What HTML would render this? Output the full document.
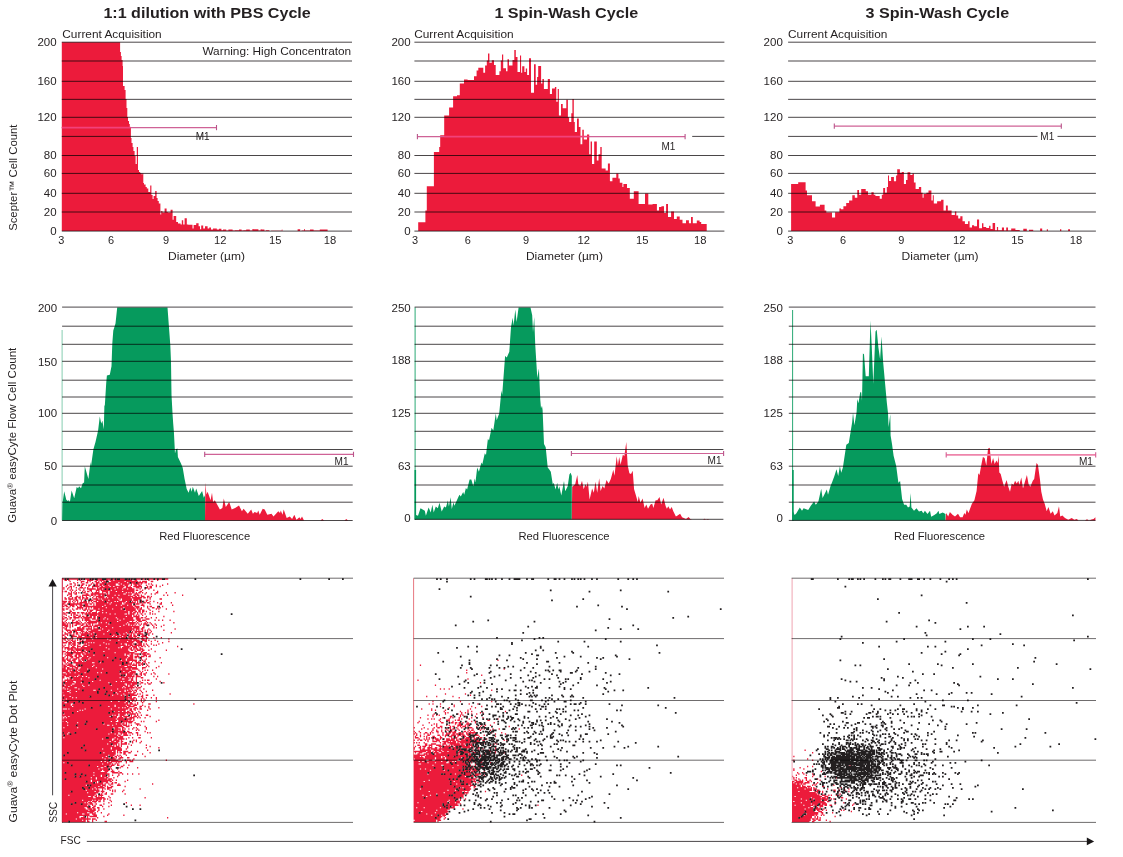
<!DOCTYPE html>
<html lang="en"><head><meta charset="utf-8"><title>Spin-Wash Cycle comparison</title>
<style>html,body{margin:0;padding:0;background:#fff;overflow:hidden}svg{display:block}text{font-family:"Liberation Sans",sans-serif;font-size:11px;fill:#231f20}</style></head><body>
<svg width="1123" height="857" viewBox="0 0 1123 857">
<rect width="1123" height="857" fill="#fff"/>
<!-- histograms -->
<path d="M61.8 231.1V42.2H120.1V52H120.9V56H121.6V60H122.6V66H123V86H124.6V90H125.6V99H126.5V108H127.3V117H128V121H129V124H129.8V128H130.9V138H131.5V143H132.6V147H133.4V151H134.6V156H135.6V164H136.8V147.1H138V170H139V172H140.2V173H141.6V174.5H142.4V173.2H143.3V183H144V184.5H145.6V187H146.8V188.5H148.3V192H150.2V185.6H151.4V195H152.6V199H153.6V196H155.2V191H156.6V198H157.6V201H158.8V203.5H160.4V214.5H161.2V211H162.4V212.5H164.6V208.5H166.6V212H167.8V212.5H170.6V209.8H172.6V219.7H173.6V216H176.2V221.9H178V223.6H180.6V224.4H181.8V220.2H183.2V224.4H184.6V218.3H186.8V224.6H188.2V224.7H192.5V228.5H193.6V224.9H196.2V223.3H198.6V226.2H200V229.3H201.2V225.6H203.2V228.4H205V226.2H207.6V228.6H209.2V227.4H211V229.4H213V228.4H216.8V229.6H219V228.8H221.4V230.2H223V229.6H226.2V230.6H228.4V229.4H230.2V229.6H232.6V230.6H235V230.2H239V229.6H241.6V230.6H243.4V230.2H246.2V229.6H249.8V230.6H252.4V229H253.4V229.2H258.4V230.6H260.6V229.2H261.6V229.6H264.4V230.8H266V230.2H269.4V231H271V230.8H281.8V229.6H282.4V231H283V231H297.6V229.2H300.2V231H301.6V230.6H304V229H304.8V230.4H305.6V230.6H310V229.4H311.2V229.6H313.6V230.4H315V230.4H319.8V229.6H322V229.4H324.4V229.6H327.6V231.1Z" fill="#ec1b3b"/>
<path d="M418.2 231.1V222.3H425.4V210.5H426.8V186.3H433.9V152.1H439.2V147.1H440.2V135.2H444.2V115.5H449.1V107.6H453.1V96.2H457V95.2H459.8V83.4H464V79.4H467.6V80.1H474V76.3H476.6V70.6H478.3V67.7H483.3V72.7H485.1V65.6H486.8V60.6H488V53.5H489.4V62.8H491.8V60.2H494V64.9H495.7V74.9H499.4V71.3H500.8V60.6H502V54.5H503.2V68.2H506V71.3H507.5V59.2H509V65.6H512.5V60H514.3V50H515.8V57H517.5V72H520V55.4H521.1V72.7H522.2V66.3H524.4V72H525.8V68.5H527.1V74.9H529V58.2H531V92.7H534V64.2H535.7V84.8H537.1V77H538.2V65.9H541.1V83.4H542.4V79.1H543.9V89.1H547.8V79.1H549.9V94.1H552V88.4H554.9V87H556.3V101.7H557.7V89.1H558.9V115.5H561V104H562.7V108.3H566.3V99.8H567.9V117.2H569.1V121.9H571.3V113.3H572.4V99.1H573.8V121.9H574.8V131.9H577V118.6H578.8V126.9H580.5V144.2H582.3V129.7H583.8V139.5H587V134.5H589.2V154.2H590.6V141.4H592V163.9H594.2V141.4H596.8V160.6H598.5V154.2H600.3V147.1H601.7V168.5H605.6V170.6H607.9V163.5H609.9V181.3H612.4V177.7H616.3V173.4H618.4V178.4H619.8V182.7H622.4V187H623.4V184.1H627V188.1H629.8V198.7H633.8V191.3H638.6V204.1H645V193.4H648.3V204.4H652.6V204.1H656.9V210.5H659V206.9H661.4V206.2H664V212.9H666.1V204.1H668V216.9H671.1V211.6H674V219H676.8V216.6H679.7V219.7H682.5V223.3H686V220.2H688.9V223.3H691V216.9H692.8V223.3H696.8V220.5H699.6V222H701.2V224H706.7V231.1Z" fill="#ec1b3b"/>
<path d="M791.1 231.1V184.1H798.2V182.3H805.6V190.5H807V195.2H812V201.2H815.6V206.6H819.9V204.8H824.6V210.5H826.3V212.6H832V217.6H835.1V212.3H839.4V208.4H841V209.2H843.4V206.2H846.2V203.1H849.1V200.5H852.3V195.2H854.8V197.7H857.3V190.1H859V194.8H861.2V189.1H865.7V191.3H868V194.8H871.4V192.3H873.7V194.8H875.4V196H879.7V198.8H881.8V194.8H883.2V188.1H885.1V192.7H886.8V187H888V175.6H889V181H891.1V177H893.9V181.3H896.1V175.6H897.2V169.2H899.9V172.7H901.8V172H903.9V184.1H906V179.9H907.5V172.3H910.3V174.9H912.5V173.4H913.9V182.4H915.6V189.1H918.9V187H921.2V192.7H922.6V197.7H923.6V194.1H926.4V192.7H928.5V190.5H931.4V200.5H932.8V195.2H933.8V203.4H937.1V201.2H941.1V199.8H943.5V210.5H945.9V205.5H947.8V210.5H951.6V215H954.9V211.5H956.3V215.5H958.2V218.6H960.3V216.2H962.5V221.2H964.9V224H968.1V221.2H969.6V227.6H972V225.2H974.1V226.2H977V219.5H979.1V228.3H982V223.3H983.4V226.9H986.2V228H989.1V225.7H990.5V229H992.6V222.9H995.1V230.2H996.9V226.9H998.1V230.2H1001.9V227.6H1004V230.4H1006.2V227.6H1008V230.4H1011.2V228.6H1015.4V230H1019.7V231H1023.3V228.7H1026.8V231H1029V229.7H1033.2V231H1040.1V228.6H1042.2V231H1046.8V229.3H1047.9V231H1060V229.3H1061.3V231H1068.1V229.3H1070V231.1Z" fill="#ec1b3b"/>
<path d="M62.1 520.6L62.1 520.6L62.5 503.3L64.2 491.2L66.3 499.7L68.2 501.2L68.7 499.7L69.9 501.9L71.6 490.5L74.2 498.3L76.7 486.9L78.1 488.3L79.1 486.2L81 488.3L82.7 483.3L84.1 482.6L84.8 466.3L88.4 479.1L90.5 462L91 466.3L93.4 449.2L95.5 442L98.1 430.6L99.8 416.4L101.2 423.5L102.4 420.7L103.8 429.2L104.4 405L104.8 406.1L106.2 383.3L106.9 375.5L109.8 374.8L111.5 366.2L112.3 343.4L113.3 330.6L115.5 323.5L117.2 307.4L167.5 307.4L168.9 326.3L170.3 344.9L171 362L171.5 394.7L172.5 413.2L173.2 423.5L173.9 432L175 453.4L176 449.2L177.4 448.4L177.9 457L181 463.4L182.7 467.7L184.6 479.1L186.7 489L188.6 492.7L190.3 487.6L191.7 491.8L192.8 486.7L195 492.7L196.2 488.4L198.8 496.1L202.1 491L203.8 497.7L205 495.2L205 520.6ZM415.1 519.4L415.1 519.4L416 515L418 515.8L420.5 508.2L424.8 510.7L425.9 515.8L428.6 507.4L430.7 512.4L432.4 504.8L433.7 512.4L435.8 506.5L437.8 508.2L439.5 502.8L441.7 511.6L444.2 506.5L445.9 507.4L447.9 500.6L448.9 506.5L450.6 497.2L451.8 509L453.5 502.3L454.4 505.7L459.4 494.7L460.8 496.4L463.2 492.1L464.2 494.7L465.9 487.9L467.1 489.6L469.6 479.4L471.3 479.4L473.3 486.2L474.7 478.6L475.5 482L477.2 467.6L478.9 471.8L481.4 462.5L482.3 464.2L484.8 453.2L486 454.9L487.9 438.8L489 440.5L491.6 427.8L493.3 430.4L495.8 413.5L496.7 420.2L499.2 413.4L501.4 390.6L502.2 394.8L505.1 355.9L506.8 357.6L509.3 351.7L511 327.1L512.7 317.8L513.6 325.5L515.3 309.4L516.6 322.1L518.6 307.4L530.5 307.4L532.2 315.3L533 332.2L534.2 317L535.2 344L537.3 377.9L538.9 368.6L540.3 399.9L541 408.3L542 405.8L542.6 410.1L544 443.9L545.7 447.3L547.7 467.6L549.1 469.3L550.8 471.8L552.8 484.5L553.8 482.8L555.5 489.6L557.2 482.8L558.4 489.6L559.3 486.2L561.3 495.5L564 481.1L565.2 491.3L567.7 486.2L569.4 474.4L570.6 472.7L571.8 476L571.8 519.4ZM792.5 520.5L792.5 520.5L793 511.6L794.7 515L796.4 513.3L799.8 507.4L802 510.7L803.6 508.2L808.2 509.9L810.8 505.7L814.1 501.4L815.8 504.8L818.4 501.4L821.2 488.7L822.6 498L825.1 493L826.8 489.6L828 494.7L830.7 485.4L831.9 482.8L834.4 476.1L836.5 469.3L838.2 476.1L839.9 465.9L841.2 472.7L842.9 467.6L846.3 444.8L848.8 443.1L852.2 421.9L853 412.6L854.4 425.3L856.1 415.2L856.6 412L857.3 399L858.5 403.3L860.2 392.3L861.2 392.3L862 400.7L862.9 353.4L864 354.2L865.7 376.2L868.8 376.2L870.5 320.4L871.7 345.8L873.3 383.8L875.5 331.4L876.7 329.7L878.4 347.4L880.1 359.3L881.5 336.4L883.2 362.7L885.2 384.7L886.9 403.3L888 413L888.6 427L890.3 414.3L890.6 435.5L892 443.9L893.6 455.8L896.2 465.9L898.4 482.8L900.1 481.1L902.1 498.9L904.1 504.8L906.3 504.8L908 507.4L909.7 506.5L910.6 493L911.4 507.4L914 510.7L916.5 508.2L919 511.6L921.6 510.7L923.3 513.3L924.9 510.7L927.5 514.1L930 510.7L931.2 516.7L934.3 515L936.8 513.3L938.5 510.7L939.3 514.1L942.7 512.4L945.5 514.1L945.5 520.5Z" fill="#069a5d"/>
<path d="M205 520.6L205 520.6L205.4 482.5L206.4 494.4L207.6 491.8L210.6 500.3L212 492.7L213.1 502L214.8 500.3L219.9 509.6L222.4 507.9L223.8 498.6L225.8 507L229.2 502L231.7 509.6L235.1 507.9L239 505.4L241.9 511.3L243.6 508.7L247.8 513.8L251.2 509.6L252.9 513.8L254.6 512.1L257.1 513L258.3 510.4L259.7 514.7L262.7 508.7L264.7 509.6L267.3 514.7L271.5 513.8L273.5 516.4L278.3 511.3L280 513L280.8 510.4L282.5 514.7L283.7 509.6L286.7 518L289.8 516.4L292.1 518.9L294.3 514.7L296.5 519.7L299.4 517.2L300.6 518.9L302 516.4L304 520.6L320.5 520.6L322.3 519L324 520.6L344.5 520.6L346.3 519L348 520.6L348 520.6ZM571.8 519.4L571.8 519.4L572.2 486.7L575.2 484.2L577.3 474.9L578.3 484.2L580.3 485.9L582 480.8L583.7 489.3L585.4 484.2L586.7 486.7L587.9 481.7L589.6 499.4L592.1 488.4L593.8 492.7L595.5 481.7L597.2 492.7L599.2 478.3L600.6 491L602.6 485.9L604.3 488.4L606.5 480L608.7 483.4L610.8 479.1L613.3 469.8L614.5 475.8L616.7 456.3L617.9 465.6L619.2 457.1L620.6 464.8L622.9 454.6L624.3 456.3L626.3 441.9L627.7 465.6L629.4 473.2L631 474L632.7 470.7L634.1 489.3L636.1 496L637.8 502L638.7 496L640.4 502.8L642.6 498.6L644.6 507.9L646.3 504.5L648 508.7L650.5 504.5L652.2 503.7L653.4 507.9L655.6 500.3L657.3 500.3L659.5 496.9L661.2 504.5L663.5 497.7L665.7 506.2L666.9 508.7L668.3 506.2L670 509.6L671.7 507L673.3 511.3L675.9 516.4L677.6 515.5L680.1 513.8L682.1 517.2L686 518.9L688.6 516.9L690.3 519.1L692 519.4L703 519.4L704.6 518.8L706 519.4L707.8 519L709.5 519.4L709.5 519.4ZM945.5 520.5L945.5 520.5L946.2 513L948.2 516.4L949.9 512.1L952.5 514.7L955 516.4L958 513.8L960.1 517.2L962.6 517.2L964.3 513L965.5 514.7L966.8 509.6L968.5 513L971.9 503.7L974.4 500.3L976.6 491L978.3 473.2L979.5 474.9L981.2 465.6L982.9 457.1L984.6 458L986.3 465.6L988 448.7L989.7 447.8L991.4 463.9L993.1 458L994.7 463.9L996.4 460.5L997.6 463.1L998.6 455.5L999.3 472.4L1000.7 474.1L1002.4 480.8L1004.1 486.7L1006.6 480L1008.3 486.7L1010 491.8L1011.7 483.4L1013.4 485.1L1015.1 480.8L1016.7 483.4L1018.4 480.8L1019.3 485.1L1021.3 477.4L1023 488.4L1024.7 482.5L1026.9 474.9L1028.6 484.2L1030.3 486.7L1032.8 480.8L1034.2 479.1L1036.5 463.1L1037.9 464.8L1039.9 479.1L1041.3 491.8L1043 499.4L1044.7 503.7L1046.7 511.3L1048.4 507L1050.6 513.8L1052.8 511.3L1054.5 515.5L1057.3 513L1059 506.2L1060.2 516.4L1062.4 515.5L1065 518L1068.3 519.7L1071.7 518L1074.3 519.7L1076.8 518.9L1078.5 520.5L1085 520.5L1087 519.2L1089 520.5L1091.5 519.6L1093.6 519L1095.4 517.2L1095.4 520.5Z" fill="#ec1b3b"/>
<path d="M62.1 330V520.3" stroke="#069a5d" stroke-width="0.7" stroke-opacity="0.7" fill="none"/>
<path d="M415.1 307.4V519.4M792.6 310V520.4" stroke="#069a5d" stroke-width="1" stroke-opacity="0.85" fill="none"/>
<path d="M415.3 470V519.4M792.9 470V520.4" stroke="#069a5d" stroke-width="1.6" fill="none"/>
<!-- dot plots -->
<g transform="translate(62 579.02) scale(1.25)"><path d="M0 0h2m1 0h1m1 0h8m1 0h1m1 0h1m1 0h4m1 0h1m1 0h1m2 0h4m3 0h4m1 0h2m1 0h1m2 0h4m2 0h1m1 0h1m1 0h1m2 0h4m1 0h2m1 0h1m1 0h4m1 0h2m1 0h3m2 0h3M2 1h2m1 0h1m6 0h1m1 0h1m5 0h5m2 0h2m1 0h4m1 0h2m1 0h3m1 0h14m2 0h2m9 0h1m6 0h1M6 2h1m8 0h3m2 0h1m1 0h1m3 0h2m1 0h1m1 0h1m1 0h2m4 0h11m1 0h10m1 0h1m1 0h4m3 0h2M9 3h1m2 0h1m2 0h1m3 0h2m3 0h1m2 0h3m2 0h4m1 0h8m1 0h6m1 0h1m1 0h4m1 0h5m1 0h2M6 4h2m2 0h1m5 0h2m5 0h1m1 0h1m1 0h2m1 0h4m1 0h8m2 0h2m1 0h6m1 0h1m1 0h5m1 0h1m5 0h1m1 0h1m12 0h1M4 5h1m5 0h1m1 0h1m2 0h2m2 0h1m1 0h2m3 0h3m1 0h2m1 0h4m1 0h5m3 0h3m1 0h3m2 0h1m2 0h2m1 0h2m4 0h1m4 0h1m2 0h1m4 0h1M3 6h1m2 0h2m1 0h1m5 0h1m5 0h1m2 0h6m1 0h2m1 0h4m1 0h2m1 0h8m1 0h2m1 0h1m2 0h7m4 0h1m1 0h2m3 0h1m2 0h1M1 7h1m3 0h1m1 0h1m3 0h1m2 0h3m1 0h1m1 0h1m3 0h1m3 0h1m1 0h14m1 0h4m2 0h5m3 0h3m1 0h1m3 0h2m1 0h2M1 8h1m2 0h1m2 0h1m5 0h1m3 0h1m2 0h7m1 0h4m1 0h1m1 0h2m1 0h4m1 0h5m1 0h3m1 0h5m4 0h1m3 0h1m2 0h1M6 9h1m1 0h1m2 0h1m2 0h1m2 0h1m4 0h2m3 0h3m1 0h8m1 0h18m1 0h2m3 0h1m8 0h1M0 10h1m1 0h2m3 0h1m2 0h1m5 0h1m1 0h1m1 0h2m1 0h1m3 0h1m1 0h1m2 0h5m1 0h5m1 0h4m1 0h9m4 0h2m12 0h1M5 11h1m1 0h1m1 0h1m1 0h1m1 0h1m3 0h2m5 0h1m1 0h4m2 0h1m2 0h2m1 0h13m1 0h1m1 0h1m1 0h2m1 0h1m1 0h2m1 0h1m2 0h1m7 0h2m6 0h1m6 0h1M5 12h3m2 0h2m7 0h2m2 0h12m1 0h1m1 0h11m2 0h5m2 0h3m5 0h1m4 0h1m2 0h1M4 13h1m2 0h1m8 0h6m1 0h2m1 0h1m2 0h2m1 0h2m1 0h7m1 0h2m1 0h7m1 0h1m2 0h2m1 0h2m1 0h1m17 0h1m2 0h1m11 0h1M6 14h2m3 0h2m1 0h1m1 0h1m2 0h1m2 0h1m2 0h1m1 0h7m2 0h21m1 0h2m1 0h1m1 0h3m2 0h2m1 0h1M2 15h1m2 0h1m2 0h1m1 0h2m1 0h2m1 0h2m1 0h2m3 0h1m2 0h1m1 0h5m1 0h1m1 0h3m1 0h3m1 0h10m1 0h8m1 0h2m1 0h1m1 0h1M2 16h2m1 0h4m1 0h2m2 0h1m1 0h1m1 0h3m4 0h4m1 0h1m1 0h13m1 0h1m1 0h8m1 0h6m7 0h1m7 0h2M6 17h1m2 0h1m1 0h2m2 0h1m6 0h3m2 0h5m1 0h4m1 0h8m2 0h8m1 0h4m2 0h1m3 0h2M0 18h4m1 0h2m1 0h1m1 0h1m1 0h1m2 0h1m1 0h3m1 0h1m1 0h1m1 0h3m1 0h5m1 0h7m1 0h1m1 0h6m1 0h2m2 0h1m1 0h1m1 0h1m2 0h1m1 0h1m1 0h1m2 0h1m2 0h1M1 19h2m2 0h2m2 0h1m2 0h1m1 0h6m1 0h1m2 0h1m2 0h9m1 0h2m1 0h8m1 0h1m1 0h8m1 0h1m1 0h2m1 0h2m1 0h2m6 0h1m2 0h1m7 0h1M0 20h2m2 0h1m1 0h10m2 0h3m1 0h2m1 0h1m1 0h11m1 0h9m2 0h6m3 0h3m2 0h1m5 0h1m7 0h2M0 21h1m1 0h2m2 0h4m1 0h1m2 0h3m1 0h3m4 0h1m1 0h7m1 0h8m1 0h3m1 0h4m1 0h3m1 0h2m4 0h3m22 0h1M0 22h2m1 0h2m1 0h1m1 0h2m2 0h1m1 0h2m1 0h15m1 0h24m1 0h4m3 0h1m2 0h1m1 0h2m4 0h1m3 0h1M5 23h1m6 0h5m2 0h1m1 0h1m1 0h1m1 0h10m1 0h13m1 0h8m1 0h3m1 0h1m4 0h1m3 0h2m2 0h1m1 0h1M0 24h2m1 0h2m3 0h1m2 0h2m1 0h1m1 0h1m1 0h2m1 0h1m3 0h4m1 0h10m1 0h6m1 0h1m1 0h9m1 0h1m1 0h2m5 0h1m5 0h1m1 0h1m5 0h1M1 25h1m4 0h1m2 0h1m7 0h2m1 0h1m1 0h3m2 0h5m1 0h17m1 0h8m2 0h2m1 0h2m4 0h1M6 26h2m12 0h1m1 0h2m3 0h1m2 0h23m1 0h3m1 0h2m1 0h2m1 0h2m1 0h1m4 0h1m4 0h1m11 0h1M1 27h1m1 0h2m1 0h1m1 0h3m1 0h2m1 0h3m1 0h1m1 0h2m1 0h4m1 0h3m1 0h2m1 0h17m1 0h2m1 0h2m1 0h1m1 0h1m1 0h1m5 0h1M1 28h2m4 0h1m1 0h2m5 0h1m1 0h20m1 0h3m1 0h7m2 0h1m1 0h4m2 0h1m2 0h1m2 0h1m3 0h1m1 0h1m1 0h1M3 29h1m3 0h1m1 0h1m1 0h2m1 0h1m4 0h1m2 0h6m1 0h27m1 0h1m1 0h1m1 0h1m2 0h1M1 30h1m3 0h1m3 0h2m2 0h2m1 0h2m1 0h2m1 0h2m1 0h2m1 0h23m1 0h4m1 0h5m5 0h1m13 0h1M0 31h1m1 0h2m2 0h2m1 0h5m1 0h1m1 0h7m1 0h2m1 0h1m1 0h4m1 0h8m1 0h13m2 0h3m1 0h2m1 0h1m4 0h1m3 0h1M0 32h2m2 0h1m1 0h1m3 0h1m5 0h1m1 0h4m2 0h3m1 0h5m1 0h2m1 0h7m1 0h4m1 0h7m2 0h4m4 0h3M3 33h1m4 0h2m3 0h1m2 0h1m1 0h5m4 0h2m1 0h16m1 0h11m2 0h3m1 0h3m7 0h1m2 0h1m2 0h1m5 0h1M0 34h1m1 0h1m5 0h1m2 0h2m1 0h1m4 0h1m1 0h23m1 0h9m2 0h1m2 0h1m1 0h3m3 0h1M0 35h2m1 0h1m1 0h1m2 0h6m1 0h1m2 0h1m1 0h8m1 0h2m1 0h3m1 0h2m1 0h13m1 0h6m1 0h1m5 0h1m1 0h1m1 0h1m18 0h1M0 36h3m1 0h1m1 0h1m1 0h1m2 0h4m1 0h2m1 0h1m1 0h2m1 0h1m4 0h8m1 0h13m1 0h1m1 0h4m1 0h1m1 0h1m1 0h1m1 0h3m3 0h1m2 0h1M0 37h5m1 0h1m1 0h1m1 0h2m3 0h2m2 0h2m1 0h1m1 0h1m1 0h23m1 0h3m1 0h1m1 0h1m1 0h1m3 0h1m2 0h1m1 0h1m1 0h1m2 0h1m2 0h1m5 0h1M2 38h3m1 0h1m1 0h1m5 0h1m2 0h7m1 0h4m1 0h5m1 0h10m1 0h15m3 0h1m7 0h1m5 0h1M1 39h1m1 0h1m2 0h1m5 0h3m1 0h2m3 0h1m1 0h1m1 0h1m2 0h1m2 0h9m1 0h15m1 0h5m2 0h2m7 0h1m1 0h1M2 40h2m6 0h1m1 0h6m1 0h5m1 0h7m1 0h25m1 0h3m1 0h2m4 0h1m20 0h1M3 41h4m1 0h9m3 0h1m2 0h6m2 0h6m1 0h18m1 0h1m1 0h1m1 0h1m2 0h1m1 0h1m1 0h1m1 0h1m10 0h1M0 42h1m3 0h1m1 0h2m2 0h2m3 0h3m1 0h1m1 0h15m1 0h17m2 0h1m1 0h7m1 0h1m1 0h1m2 0h1M2 43h1m2 0h3m1 0h1m1 0h2m1 0h1m1 0h1m1 0h3m1 0h3m1 0h17m1 0h7m1 0h5m1 0h2m1 0h2m4 0h2m1 0h1m16 0h1M2 44h3m1 0h1m2 0h1m1 0h2m2 0h8m1 0h2m1 0h6m1 0h4m1 0h5m2 0h3m1 0h2m1 0h1m1 0h1m1 0h1m2 0h5m4 0h1m2 0h1M0 45h2m2 0h1m2 0h3m3 0h1m1 0h5m2 0h5m1 0h13m1 0h4m1 0h5m2 0h2m1 0h2m1 0h1m3 0h2m1 0h1m1 0h1M2 46h1m5 0h4m1 0h3m2 0h7m1 0h14m1 0h2m1 0h4m1 0h3m1 0h3m1 0h3m3 0h5M0 47h1m1 0h2m3 0h2m3 0h11m1 0h3m1 0h18m1 0h4m2 0h4m1 0h1m1 0h2m2 0h1m2 0h2m4 0h1m5 0h1M1 48h2m1 0h1m1 0h1m1 0h1m3 0h1m2 0h1m1 0h1m1 0h5m1 0h11m1 0h16m1 0h6m3 0h3m1 0h1m17 0h1M0 49h1m1 0h1m2 0h1m1 0h2m1 0h1m1 0h1m1 0h1m1 0h1m2 0h19m1 0h6m1 0h10m1 0h5m2 0h4m1 0h1m4 0h1M0 50h1m2 0h2m1 0h1m1 0h3m3 0h2m1 0h35m1 0h5m1 0h4m3 0h2m3 0h1m4 0h1m8 0h1M0 51h4m1 0h3m1 0h2m1 0h2m3 0h4m1 0h1m1 0h1m1 0h7m1 0h9m1 0h13m3 0h4m16 0h1M5 52h2m1 0h3m2 0h2m3 0h1m1 0h15m1 0h1m1 0h9m1 0h2m2 0h4m1 0h1m1 0h1m1 0h3m1 0h1m1 0h1m3 0h1m5 0h1M0 53h1m1 0h1m2 0h1m1 0h1m1 0h2m1 0h1m4 0h4m1 0h8m1 0h20m1 0h1m1 0h3m1 0h6m1 0h1m2 0h1m4 0h1m1 0h1M1 54h1m3 0h1m2 0h2m2 0h3m1 0h2m2 0h27m2 0h6m1 0h4m1 0h1m1 0h2m1 0h1m2 0h1m22 0h1M0 55h1m1 0h4m1 0h4m1 0h1m2 0h20m1 0h9m1 0h1m1 0h6m1 0h1m1 0h3m2 0h1M2 56h1m1 0h5m1 0h13m1 0h13m1 0h15m1 0h2m1 0h1m1 0h2m1 0h3m6 0h1M5 57h1m1 0h3m1 0h5m1 0h1m1 0h34m2 0h2m1 0h1m1 0h3m1 0h2m3 0h1m13 0h1M0 58h3m1 0h1m2 0h1m1 0h2m1 0h1m2 0h4m1 0h1m1 0h11m1 0h20m4 0h2m3 0h2m9 0h1M0 59h1m2 0h4m1 0h9m1 0h3m1 0h3m1 0h16m1 0h15m5 0h1m1 0h3M0 60h1m1 0h1m1 0h5m2 0h4m1 0h2m1 0h31m1 0h3m1 0h2m1 0h4m2 0h3m1 0h2M3 61h5m2 0h2m1 0h2m2 0h8m1 0h7m1 0h16m1 0h1m2 0h3m3 0h1m4 0h3m2 0h1M2 62h1m1 0h1m1 0h3m1 0h2m1 0h3m1 0h3m1 0h32m1 0h3m1 0h4m1 0h3m1 0h1m1 0h2M0 63h2m2 0h1m2 0h2m2 0h3m2 0h6m1 0h13m1 0h5m1 0h9m1 0h4m1 0h2m1 0h1m1 0h1m14 0h1M0 64h2m1 0h2m1 0h1m2 0h3m1 0h1m1 0h6m1 0h24m1 0h4m1 0h5m6 0h1m3 0h1M0 65h3m1 0h3m1 0h3m2 0h2m1 0h2m2 0h20m1 0h6m1 0h3m1 0h8m4 0h1m1 0h1M1 66h2m2 0h3m1 0h2m2 0h3m1 0h1m1 0h10m1 0h2m1 0h21m2 0h1m1 0h2m1 0h1m3 0h2m7 0h1M2 67h1m1 0h1m4 0h15m2 0h4m1 0h17m1 0h2m1 0h2m1 0h1m3 0h4m1 0h1m1 0h1m2 0h1m9 0h1M0 68h1m2 0h1m1 0h3m3 0h37m1 0h7m1 0h1m1 0h1m1 0h1m1 0h2m2 0h1M1 69h2m1 0h5m2 0h2m1 0h1m1 0h9m1 0h20m1 0h6m1 0h1m1 0h4m1 0h2m1 0h1m3 0h1M1 70h3m2 0h5m1 0h12m1 0h25m2 0h4m3 0h1m7 0h1m1 0h1m7 0h1M1 71h2m1 0h2m2 0h1m1 0h3m2 0h12m1 0h32m4 0h3m8 0h1M0 72h3m1 0h6m1 0h2m1 0h6m1 0h11m1 0h14m1 0h3m2 0h2m1 0h5m3 0h1M0 73h5m1 0h1m1 0h1m1 0h2m1 0h8m1 0h34m5 0h1m4 0h1m1 0h1m3 0h1M0 74h5m1 0h7m1 0h6m1 0h25m1 0h2m1 0h4m1 0h4m3 0h1m1 0h1M3 75h3m1 0h3m1 0h7m1 0h9m1 0h2m1 0h3m1 0h17m1 0h5m4 0h1m3 0h1m5 0h1M0 76h3m1 0h11m1 0h30m1 0h4m1 0h5m1 0h1m3 0h2m1 0h2m4 0h1m2 0h1m10 0h1M1 77h12m1 0h33m1 0h1m1 0h1m1 0h4m1 0h1m1 0h2m2 0h1m2 0h1M0 78h2m1 0h3m1 0h3m1 0h1m1 0h3m1 0h2m1 0h8m1 0h21m1 0h7m1 0h4m10 0h1m2 0h1M0 79h2m4 0h1m1 0h13m1 0h24m1 0h6m1 0h1m1 0h1m2 0h1m3 0h2M4 80h1m1 0h2m1 0h6m1 0h10m1 0h21m2 0h4m1 0h2m2 0h1m15 0h1M2 81h28m1 0h22m2 0h2m2 0h1m4 0h1m1 0h1m1 0h2M1 82h2m1 0h5m2 0h5m1 0h7m1 0h18m1 0h3m1 0h1m1 0h6m1 0h1m1 0h1m2 0h1m15 0h1M0 83h1m1 0h8m1 0h4m1 0h5m1 0h15m1 0h22m3 0h2m3 0h1m2 0h1m9 0h1M0 84h1m1 0h6m2 0h28m1 0h11m2 0h3m1 0h4m2 0h1m3 0h1m2 0h2M1 85h1m1 0h4m1 0h8m1 0h4m1 0h17m1 0h11m1 0h1m1 0h4M0 86h5m1 0h11m1 0h31m1 0h3m1 0h3m1 0h1m1 0h1m2 0h1M2 87h8m2 0h21m1 0h14m1 0h1m1 0h7m1 0h1m1 0h2M1 88h1m1 0h1m1 0h8m1 0h15m1 0h14m1 0h9m1 0h1m4 0h1m4 0h1M0 89h6m1 0h9m1 0h8m2 0h12m1 0h10m1 0h1m1 0h2m1 0h1m1 0h2m2 0h1m9 0h1M0 90h4m2 0h5m1 0h16m1 0h6m1 0h10m1 0h3m1 0h5m1 0h1m1 0h1m3 0h1m3 0h1M1 91h5m1 0h21m1 0h12m1 0h1m1 0h9m1 0h1m2 0h2m5 0h1M0 92h34m1 0h9m1 0h4m1 0h8m2 0h1m1 0h1m23 0h1M0 93h1m1 0h35m1 0h2m1 0h6m1 0h2m1 0h2m1 0h6m4 0h1m2 0h2m4 0h1M0 94h6m1 0h15m1 0h27m1 0h2m1 0h2m5 0h1m1 0h2M1 95h7m1 0h2m1 0h44m1 0h2m5 0h1m2 0h1m3 0h1m3 0h1M0 96h3m1 0h46m1 0h2m1 0h4m1 0h1m3 0h1m1 0h1m9 0h1M0 97h1m1 0h52m1 0h3m1 0h1m3 0h1m2 0h1M1 98h3m1 0h8m1 0h25m1 0h5m1 0h5m1 0h1m3 0h1m1 0h1m4 0h1m1 0h1m9 0h1M0 99h2m2 0h5m1 0h6m1 0h33m1 0h2m1 0h2m4 0h1m3 0h1M0 100h7m2 0h44m1 0h3m1 0h1m1 0h1m8 0h2m34 0h1M0 101h1m1 0h5m1 0h22m1 0h11m1 0h8m1 0h3m2 0h3m4 0h1M0 102h8m1 0h28m1 0h4m1 0h9m1 0h5m4 0h2m2 0h1m2 0h1M0 103h23m1 0h21m1 0h2m1 0h1m1 0h3m4 0h2m2 0h1m6 0h1m7 0h1M4 104h1m1 0h12m1 0h20m1 0h13m1 0h2m1 0h2m1 0h1m1 0h2m6 0h1M0 105h14m1 0h1m1 0h34m3 0h2m2 0h1m9 0h1M0 106h12m1 0h27m2 0h3m1 0h2m1 0h2m1 0h2m1 0h2m4 0h1M1 107h7m1 0h28m1 0h17m1 0h1m2 0h1m2 0h1M0 108h1m1 0h43m1 0h5m1 0h1m1 0h5m1 0h1M0 109h40m1 0h1m1 0h2m1 0h4m5 0h1m2 0h1m1 0h1m2 0h1m3 0h2M1 110h1m1 0h2m1 0h32m2 0h4m2 0h2m1 0h5m1 0h1m1 0h3m1 0h1m8 0h1M2 111h1m1 0h40m1 0h4m1 0h2m2 0h4m2 0h1m1 0h1m3 0h1M1 112h42m1 0h6m1 0h5m1 0h1M0 113h44m1 0h8m1 0h1m2 0h1m19 0h1M1 114h2m1 0h15m1 0h19m1 0h3m2 0h2m1 0h9m6 0h1m1 0h1m9 0h1M0 115h4m1 0h7m1 0h19m1 0h15m1 0h1m1 0h1m1 0h3m2 0h1M0 116h18m1 0h14m1 0h9m1 0h3m1 0h2m1 0h1m7 0h3M0 117h4m1 0h6m1 0h24m2 0h2m1 0h7m1 0h3m1 0h1m1 0h1m4 0h1m1 0h1M0 118h49m2 0h3m12 0h1M0 119h1m1 0h10m1 0h28m1 0h3m3 0h2m7 0h1m1 0h1m7 0h1M0 120h27m1 0h12m2 0h5m1 0h1m1 0h1m2 0h1m2 0h1m3 0h1m6 0h1M0 121h45m1 0h1m1 0h2m9 0h1m1 0h1M0 122h40m1 0h8m1 0h1m1 0h2m12 0h1M1 123h4m1 0h4m1 0h28m1 0h5m1 0h6m1 0h3m3 0h2m7 0h1m1 0h1M0 124h4m1 0h1m1 0h30m1 0h4m1 0h2m2 0h1m1 0h3m4 0h1m3 0h1M2 125h42m1 0h2m2 0h4m1 0h1m5 0h1m1 0h1M0 126h45m1 0h3M0 127h1m1 0h33m2 0h5m1 0h6m4 0h1m2 0h1m4 0h2m8 0h1M0 128h32m1 0h7m2 0h2m1 0h5m1 0h1M0 129h40m1 0h5m1 0h1m9 0h1m1 0h1M0 130h38m1 0h3m1 0h3m1 0h2m7 0h1m2 0h1m3 0h1M0 131h45m2 0h1m2 0h2m4 0h1m5 0h1M0 132h36m1 0h2m1 0h4m1 0h1m1 0h5m1 0h1M0 133h17m1 0h22m1 0h1m1 0h1m1 0h1m1 0h1m7 0h1m11 0h1M0 134h42m1 0h3m1 0h1m4 0h1m17 0h1M0 135h15m1 0h23m1 0h7m5 0h1m14 0h1m9 0h1M0 136h32m1 0h6m1 0h8m3 0h1M0 137h18m1 0h24m1 0h4m20 0h1M0 138h40m1 0h2m1 0h1m1 0h1m2 0h4m2 0h1m4 0h1M0 139h4m1 0h25m1 0h2m1 0h9m1 0h1m1 0h2m1 0h2m2 0h2m15 0h1M0 140h43m6 0h2m13 0h1M0 141h1m1 0h35m1 0h4m2 0h1m1 0h1m4 0h1m6 0h2M0 142h35m1 0h1m1 0h3m1 0h2m1 0h1m1 0h1m18 0h1M0 143h32m1 0h4m3 0h2m1 0h1m2 0h3m3 0h2M0 144h34m1 0h8m2 0h2m10 0h1M0 145h37m1 0h7m3 0h1m3 0h3m1 0h1m26 0h1M0 146h31m1 0h2m1 0h3m1 0h9m3 0h1m2 0h3M0 147h1m1 0h2m1 0h31m1 0h3m3 0h1m1 0h1m5 0h1M0 148h32m1 0h6m1 0h1m1 0h1m1 0h1M0 149h7m1 0h13m1 0h16m1 0h3m2 0h2m3 0h1m3 0h1M0 150h28m1 0h5m1 0h1m1 0h3m7 0h2M0 151h31m2 0h4m1 0h1m7 0h1m5 0h1m7 0h1M0 152h29m1 0h7m2 0h1m4 0h1M0 153h32m1 0h5m2 0h1M0 154h31m3 0h3m2 0h3m3 0h1M0 155h2m1 0h22m1 0h10m4 0h5m1 0h2M0 156h10m1 0h4m1 0h22m7 0h1m2 0h1m3 0h1m3 0h1m4 0h1M0 157h18m1 0h6m1 0h5m1 0h3m2 0h1m2 0h1m4 0h1M0 158h10m1 0h3m1 0h16m1 0h4m1 0h1m6 0h1M0 159h23m1 0h3m1 0h6m1 0h2m4 0h1M0 160h2m1 0h24m1 0h8m1 0h3M0 161h23m1 0h15m1 0h1m2 0h1m8 0h1M0 162h19m1 0h3m1 0h4m1 0h1m1 0h6m1 0h2m10 0h1M0 163h25m2 0h1m1 0h4m2 0h2m3 0h1m1 0h2M0 164h33m1 0h1m2 0h1m1 0h2m4 0h1m26 0h1M0 165h19m2 0h1m1 0h8m1 0h3m3 0h1m5 0h3M0 166h29m1 0h3m1 0h1m1 0h1m2 0h2m9 0h1M0 167h16m1 0h4m1 0h4m1 0h7m2 0h4M0 168h17m1 0h6m1 0h2m1 0h1m3 0h1m1 0h1m1 0h2m24 0h1M0 169h19m1 0h10m2 0h1m5 0h1m1 0h1m1 0h1m6 0h1M0 170h7m1 0h18m1 0h3m1 0h3m6 0h1m1 0h1m5 0h1M0 171h20m1 0h8m3 0h1m2 0h1M0 172h27m4 0h1m2 0h2m3 0h2m9 0h1M0 173h5m1 0h20m1 0h1m1 0h4M0 174h21m2 0h2m1 0h2m1 0h1m1 0h1m5 0h1M0 175h25m2 0h7m4 0h1m27 0h1M0 176h32m1 0h2m1 0h1M0 177h16m1 0h7m1 0h1m1 0h2m1 0h1m2 0h1m4 0h1M0 178h21m1 0h1m1 0h4m1 0h2m2 0h1m5 0h1M0 179h10m1 0h7m1 0h1m1 0h3m2 0h1m10 0h1m13 0h1M0 180h7m1 0h7m1 0h5m1 0h3m2 0h1m5 0h1M0 181h20m1 0h1m2 0h1m1 0h1m3 0h2m7 0h1m15 0h1m6 0h1M0 182h21m1 0h1m2 0h2m5 0h1m4 0h1M0 183h18m2 0h3m1 0h2m2 0h2M0 184h19m2 0h3m1 0h2m2 0h1m3 0h1M0 185h21m1 0h5m2 0h1M0 186h26m2 0h1M0 187h12m1 0h7m2 0h3m1 0h1m4 0h1M0 188h3m1 0h12m2 0h4m2 0h3m10 0h1M0 189h22m3 0h3m8 0h1m12 0h1M0 190h14m3 0h1m2 0h1m1 0h6m5 0h1M0 191h14m1 0h4m1 0h1m7 0h1m55 0h1M0 192h11m1 0h11m1 0h3M0 193h16m1 0h2m1 0h1m3 0h1m2 0h1M0 194h5m1 0h13m1 0h2m2 0h1m9 0h2" stroke="#ec1b3b" stroke-width="1.14" fill="none"/></g>
<g transform="translate(62 579.02) scale(1.25)"><path d="M2 0h1.4M4 0h1.4M13 0h1.4M15 0h1.4M17 0h1.4M22 0h1.4M24 0h1.4M26 0h1.4M27 0h1.4M32 0h1.4M33 0h1.4M34 0h1.4M39 0h1.4M42 0h1.4M44 0h1.4M45 0h1.4M50 0h1.4M51 0h1.4M53 0h1.4M55 0h1.4M57 0h1.4M58 0h1.4M63 0h1.4M66 0h1.4M68 0h1.4M73 0h1.4M76 0h1.4M80 0h1.4M81 0h1.4M106 0h1.4M190 0h1.4M213 0h1.4M224 0h1.4M35 2h1.4M36 2h1.4M54 3h1.4M59 3h1.4M34 4h1.4M13 5h1.4M25 5h1.4M66 7h1.4M34 8h1.4M37 8h1.4M15 11h1.4M34 13h1.4M22 16h1.4M18 17h1.4M21 17h1.4M62 17h1.4M34 18h1.4M54 18h1.4M62 18h1.4M64 18h1.4M5 20h1.4M57 20h1.4M17 21h1.4M77 22h1.4M49 24h1.4M5 27h1.4M135 28h1.4M20 29h1.4M29 31h1.4M29 33h1.4M7 35h1.4M38 35h1.4M68 37h1.4M29 39h1.4M9 42h1.4M54 42h1.4M43 43h1.4M66 43h1.4M26 44h1.4M38 44h1.4M44 44h1.4M67 44h1.4M6 45h1.4M20 45h1.4M52 45h1.4M61 45h1.4M66 45h1.4M7 46h1.4M25 46h1.4M75 46h1.4M51 47h1.4M14 48h1.4M16 50h1.4M63 50h1.4M14 51h1.4M16 51h1.4M43 51h1.4M58 52h1.4M23 56h1.4M95 56h1.4M16 57h1.4M21 58h1.4M7 59h1.4M25 59h1.4M62 60h1.4M127 60h1.4M33 61h1.4M42 63h1.4M62 63h1.4M46 64h1.4M18 65h1.4M40 65h1.4M62 65h1.4M29 66h1.4M32 66h1.4M7 67h1.4M48 67h1.4M51 67h1.4M48 68h1.4M65 68h1.4M13 69h1.4M15 69h1.4M9 73h1.4M21 73h1.4M20 74h1.4M46 74h1.4M35 75h1.4M15 76h1.4M59 76h1.4M47 77h1.4M49 77h1.4M28 78h1.4M7 79h1.4M26 80h1.4M16 82h1.4M1 83h1.4M21 83h1.4M60 83h1.4M79 83h1.4M38 84h1.4M0 85h1.4M60 85h1.4M33 87h1.4M29 88h1.4M16 89h1.4M28 90h1.4M35 90h1.4M28 91h1.4M41 91h1.4M34 92h1.4M37 93h1.4M53 93h1.4M22 94h1.4M50 94h1.4M0 95h1.4M50 96h1.4M4 98h1.4M13 98h1.4M53 98h1.4M9 99h1.4M16 99h1.4M1 101h1.4M30 101h1.4M23 103h1.4M40 106h1.4M0 107h1.4M8 107h1.4M37 107h1.4M53 109h1.4M39 110h1.4M50 112h1.4M19 114h1.4M47 114h1.4M32 115h1.4M18 116h1.4M11 117h1.4M27 120h1.4M40 120h1.4M40 122h1.4M49 122h1.4M0 123h1.4M10 123h1.4M6 124h1.4M1 125h1.4M35 127h1.4M36 127h1.4M54 130h1.4M39 132h1.4M17 133h1.4M15 135h1.4M18 137h1.4M77 137h1.4M4 139h1.4M30 139h1.4M1 141h1.4M37 142h1.4M39 143h1.4M37 145h1.4M50 145h1.4M4 147h1.4M7 149h1.4M21 149h1.4M36 150h1.4M43 151h1.4M44 151h1.4M37 152h1.4M2 155h1.4M10 156h1.4M15 156h1.4M18 157h1.4M35 157h1.4M105 157h1.4M10 158h1.4M14 158h1.4M2 160h1.4M19 162h1.4M30 162h1.4M25 163h1.4M20 165h1.4M22 165h1.4M16 167h1.4M21 167h1.4M17 168h1.4M7 170h1.4M29 172h1.4M10 179h1.4M7 180h1.4M15 180h1.4M49 180h1.4M21 182h1.4M51 182h1.4M56 184h1.4M62 184h1.4M18 190h1.4M58 193h1.4M5 194h1.4" stroke="#231f20" stroke-width="1.4" fill="none"/></g>
<g transform="translate(413.6 579.02) scale(1.25)"><path d="M67 65h1M5 69h1M72 72h1M42 73h1M42 75h1M54 77h1M43 80h1M3 81h1M53 83h1M17 85h1M21 88h1m2 0h1m3 0h1M62 89h1M25 92h1m15 0h1M45 93h1M10 94h1m7 0h1m12 0h1M36 95h1M15 98h1m21 0h1m24 0h1M12 100h1m2 0h1m5 0h1m22 0h1m6 0h1M32 101h1M21 102h1m10 0h1m13 0h1m7 0h1M28 103h1m20 0h1M6 104h1m7 0h1m30 0h1M14 105h1m2 0h1m7 0h1m17 0h1M24 106h1m12 0h1m5 0h1m2 0h1m26 0h1M25 107h1m1 0h1m10 0h1m2 0h1m1 0h1m9 0h1m1 0h1M16 108h1m8 0h1m9 0h1m2 0h1m7 0h1m3 0h1M11 109h1m3 0h1m2 0h1m1 0h1m16 0h1m1 0h1M15 110h1m13 0h2m6 0h1m3 0h1m7 0h1M5 111h1m17 0h1m5 0h1m1 0h1m4 0h1m9 0h1m8 0h1M11 112h1m2 0h1m1 0h1m4 0h1m6 0h1m7 0h1m1 0h1m5 0h1m22 0h1M20 113h1m5 0h3m4 0h1m1 0h2m22 0h2M4 114h1m16 0h1m6 0h1m2 0h1m10 0h1m3 0h1m2 0h1M3 115h1m8 0h1m9 0h2m6 0h2m1 0h2m1 0h2m1 0h1m3 0h1m5 0h1m14 0h1M16 116h1m1 0h1m14 0h1m2 0h2m4 0h3M7 117h1m6 0h1m3 0h1m7 0h1m1 0h1m6 0h4m2 0h1m1 0h1m10 0h1m2 0h1m3 0h1M18 118h1m2 0h2m6 0h1m1 0h2m2 0h1m1 0h1m1 0h3m1 0h1m6 0h1m2 0h1m2 0h1m19 0h1M0 119h1m7 0h1m7 0h1m2 0h2m1 0h1m5 0h2m4 0h1m3 0h1m5 0h3M6 120h1m4 0h1m3 0h1m10 0h1m2 0h1m1 0h2m2 0h1m7 0h1m3 0h1m4 0h1m1 0h1m1 0h1m6 0h1m4 0h1m15 0h1M15 121h1m2 0h1m3 0h1m2 0h1m1 0h1m2 0h1m5 0h1m7 0h1m1 0h2m5 0h1m7 0h1M0 122h1m3 0h1m9 0h1m3 0h2m2 0h1m6 0h2m1 0h2m6 0h2m1 0h1m1 0h1m2 0h1M1 123h1m3 0h1m3 0h2m2 0h1m1 0h1m3 0h1m3 0h1m2 0h1m1 0h2m1 0h3m2 0h2m1 0h1m2 0h1m1 0h6m12 0h1m7 0h1M0 124h1m1 0h1m5 0h1m2 0h1m1 0h1m9 0h1m2 0h3m2 0h2m1 0h2m1 0h3m2 0h2m1 0h1m1 0h1m2 0h1m14 0h1m7 0h1M2 125h1m2 0h1m5 0h2m6 0h2m2 0h1m1 0h2m3 0h4m1 0h3m1 0h2m2 0h2m4 0h3m4 0h1M1 126h1m3 0h1m2 0h1m1 0h1m4 0h2m4 0h1m3 0h1m2 0h3m2 0h1m1 0h1m2 0h1m1 0h2m6 0h1m3 0h1m12 0h1M1 127h3m6 0h1m1 0h1m1 0h1m1 0h2m3 0h2m7 0h1m2 0h2m5 0h1m1 0h3m1 0h1m1 0h1m1 0h1m2 0h2M4 128h1m3 0h1m1 0h1m1 0h1m2 0h1m1 0h3m1 0h1m2 0h1m1 0h3m1 0h3m1 0h1m1 0h1m1 0h2m1 0h4m3 0h2m1 0h1m6 0h1M0 129h1m2 0h1m1 0h2m2 0h1m1 0h1m3 0h1m2 0h3m5 0h7m1 0h2m2 0h4m1 0h3m2 0h1m1 0h2m3 0h2m15 0h1m1 0h1M11 130h1m3 0h4m1 0h1m2 0h5m1 0h1m1 0h3m1 0h10m5 0h3M0 131h1m1 0h1m1 0h1m3 0h1m12 0h1m2 0h2m1 0h7m1 0h1m1 0h9m1 0h3m6 0h1M9 132h2m3 0h4m5 0h3m3 0h8m1 0h2m1 0h1m1 0h1m2 0h1m7 0h1m9 0h1m1 0h1M3 133h2m4 0h2m1 0h3m3 0h4m1 0h1m2 0h1m1 0h1m1 0h1m1 0h9m2 0h4m3 0h1m10 0h1M1 134h1m3 0h1m1 0h3m2 0h1m1 0h1m5 0h3m1 0h6m1 0h1m1 0h1m1 0h1m2 0h7m1 0h2m2 0h1M0 135h1m3 0h2m2 0h1m2 0h4m2 0h2m2 0h1m1 0h5m1 0h1m1 0h3m1 0h3m1 0h7m1 0h1m3 0h2m12 0h1M0 136h1m4 0h1m1 0h2m2 0h2m1 0h5m1 0h11m1 0h4m1 0h1m4 0h1m4 0h1m3 0h1m3 0h1m9 0h1M5 137h9m2 0h6m1 0h12m1 0h4m2 0h1m9 0h1m7 0h1M0 138h10m1 0h3m1 0h1m1 0h2m1 0h3m1 0h3m1 0h6m2 0h1m2 0h5m2 0h2m13 0h1m3 0h1M1 139h1m2 0h3m3 0h4m2 0h4m2 0h12m1 0h3m2 0h5m3 0h2m1 0h1m13 0h1m6 0h1M3 140h2m3 0h3m1 0h3m1 0h1m1 0h18m3 0h2m3 0h2m11 0h1M0 141h9m1 0h17m1 0h6m1 0h7m1 0h3m3 0h1m3 0h1M0 142h5m1 0h1m2 0h13m1 0h1m1 0h7m1 0h9m1 0h1m2 0h1m6 0h1M0 143h8m1 0h8m1 0h4m1 0h2m1 0h12m2 0h4m1 0h3m4 0h1M1 144h16m1 0h7m1 0h10m1 0h1m1 0h3m2 0h2m1 0h2M0 145h10m2 0h3m2 0h9m1 0h8m2 0h5m1 0h3m9 0h1M0 146h4m1 0h2m1 0h1m1 0h12m1 0h4m1 0h3m1 0h1m1 0h5m1 0h1m3 0h1m1 0h1m2 0h1m4 0h1M0 147h11m1 0h5m1 0h8m2 0h1m1 0h3m1 0h7m1 0h2m2 0h1m6 0h2m6 0h1M0 148h4m2 0h24m1 0h11m1 0h1m5 0h1M0 149h15m1 0h6m2 0h11m1 0h7m2 0h1m3 0h1M0 150h23m1 0h15m1 0h1m1 0h1m2 0h1m1 0h1m6 0h2M0 151h16m1 0h14m1 0h10m1 0h2m1 0h2m4 0h1M0 152h5m1 0h3m1 0h13m1 0h15m1 0h1m2 0h1m1 0h2m1 0h2M0 153h13m1 0h10m1 0h2m1 0h8m1 0h2m1 0h6m1 0h4m1 0h1M0 154h42m1 0h1m2 0h2m1 0h1m6 0h1M0 155h11m1 0h26m1 0h1m1 0h5m2 0h1M0 156h11m1 0h10m1 0h1m1 0h4m1 0h3m1 0h6m1 0h5m3 0h5M0 157h36m2 0h7m1 0h2m1 0h3m4 0h1m29 0h1M0 158h35m2 0h4m4 0h3M0 159h44m3 0h1m2 0h1M0 160h28m1 0h2m1 0h2m1 0h15m2 0h1M0 161h12m1 0h24m2 0h8m1 0h1m3 0h1M0 162h8m1 0h20m1 0h2m1 0h4m1 0h1m1 0h6m1 0h3M0 163h47m2 0h1m1 0h1M0 164h29m1 0h4m1 0h3m2 0h2m1 0h3M0 165h44m1 0h3M0 166h6m1 0h25m1 0h13m2 0h2M0 167h36m2 0h1m1 0h5m3 0h1M0 168h5m1 0h28m1 0h5m1 0h5M0 169h27m1 0h5m1 0h1m1 0h9M0 170h12m1 0h26m1 0h1m2 0h1m13 0h1M0 171h24m1 0h7m1 0h6m1 0h4M0 172h18m1 0h22m1 0h1M0 173h7m1 0h5m1 0h4m1 0h9m1 0h1m1 0h9M0 174h10m1 0h29M0 175h8m1 0h23m1 0h4m2 0h1M0 176h34m1 0h1m1 0h1m3 0h1M0 177h28m1 0h4m2 0h1m1 0h1M0 178h27m1 0h9M0 179h3m1 0h23m2 0h4m1 0h3M0 180h23m1 0h11m2 0h1M0 181h23m1 0h2m1 0h9m63 0h1M0 182h24m1 0h4m2 0h2M0 183h2m1 0h5m1 0h12m1 0h4m1 0h6M0 184h29m10 0h1M0 185h18m1 0h8M0 186h6m1 0h21M0 187h4m1 0h12m1 0h9M0 188h10m1 0h14m2 0h1M0 189h14m1 0h4m1 0h2m1 0h3M0 190h23m1 0h1M0 191h17m1 0h4m3 0h1M0 192h21m3 0h1M1 193h17m1 0h3M0 194h18m1 0h1" stroke="#ec1b3b" stroke-width="1.14" fill="none"/></g>
<g transform="translate(413.6 579.02) scale(1.25)"><path d="M18 0h1.4M21 0h1.4M26 0h1.4M45 0h1.4M48 0h1.4M57 0h1.4M58 0h1.4M60 0h1.4M62 0h1.4M65 0h1.4M70 0h1.4M76 0h1.4M80 0h1.4M81 0h1.4M82 0h1.4M83 0h1.4M84 0h1.4M90 0h1.4M94 0h1.4M95 0h1.4M107 0h1.4M112 0h1.4M113 0h1.4M116 0h1.4M120 0h1.4M126 0h1.4M128 0h1.4M131 0h1.4M133 0h1.4M136 0h1.4M142 0h1.4M146 0h1.4M163 0h1.4M171 0h1.4M175 0h1.4M178 0h1.4M26 2h1.4M20 8h1.4M109 9h1.4M165 9h1.4M140 10h1.4M203 10h1.4M45 14h1.4M135 16h1.4M110 17h1.4M147 21h1.4M130 22h1.4M166 22h1.4M170 24h1.4M245 24h1.4M219 30h1.4M207 31h1.4M156 32h1.4M59 33h1.4M47 34h1.4M96 34h1.4M33 37h1.4M175 37h1.4M91 38h1.4M155 39h1.4M165 40h1.4M179 40h1.4M145 41h1.4M87 43h1.4M66 47h1.4M100 47h1.4M103 47h1.4M96 48h1.4M153 48h1.4M86 49h1.4M115 50h1.4M136 50h1.4M165 50h1.4M78 51h1.4M78 52h1.4M194 53h1.4M43 54h1.4M50 54h1.4M101 54h1.4M139 54h1.4M34 55h1.4M101 55h1.4M97 57h1.4M103 57h1.4M50 58h1.4M126 58h1.4M19 59h1.4M89 59h1.4M113 59h1.4M127 59h1.4M196 59h1.4M94 60h1.4M68 61h1.4M76 61h1.4M98 61h1.4M99 61h1.4M161 61h1.4M37 62h1.4M120 62h1.4M133 62h1.4M162 62h1.4M85 63h1.4M114 63h1.4M146 63h1.4M151 63h1.4M66 64h1.4M87 64h1.4M98 64h1.4M149 64h1.4M172 64h1.4M44 65h1.4M74 65h1.4M23 66h1.4M106 66h1.4M107 66h1.4M44 67h1.4M90 67h1.4M116 67h1.4M139 67h1.4M44 68h1.4M98 68h1.4M38 69h1.4M61 69h1.4M66 69h1.4M75 70h1.4M79 70h1.4M108 70h1.4M145 70h1.4M37 71h1.4M45 71h1.4M60 71h1.4M68 71h1.4M72 71h1.4M88 71h1.4M95 71h1.4M131 71h1.4M46 72h1.4M145 72h1.4M85 73h1.4M105 73h1.4M107 73h1.4M111 73h1.4M116 73h1.4M117 73h1.4M130 73h1.4M61 74h1.4M93 74h1.4M108 74h1.4M117 74h1.4M129 74h1.4M140 74h1.4M60 75h1.4M97 75h1.4M125 75h1.4M126 75h1.4M153 75h1.4M17 76h1.4M50 76h1.4M77 76h1.4M110 76h1.4M134 76h1.4M164 76h1.4M48 77h1.4M68 77h1.4M91 77h1.4M100 77h1.4M114 77h1.4M157 77h1.4M35 78h1.4M64 78h1.4M97 78h1.4M61 79h1.4M77 79h1.4M85 79h1.4M95 79h1.4M115 79h1.4M133 79h1.4M20 80h1.4M104 80h1.4M108 80h1.4M121 80h1.4M123 80h1.4M133 80h1.4M151 80h1.4M41 81h1.4M56 81h1.4M73 81h1.4M92 81h1.4M94 81h1.4M40 82h1.4M87 82h1.4M96 82h1.4M116 82h1.4M121 82h1.4M157 82h1.4M43 83h1.4M56 83h1.4M101 83h1.4M119 83h1.4M131 83h1.4M154 83h1.4M36 84h1.4M62 84h1.4M117 84h1.4M81 85h1.4M127 85h1.4M146 85h1.4M30 86h1.4M53 86h1.4M89 86h1.4M94 86h1.4M98 86h1.4M116 86h1.4M40 87h1.4M51 87h1.4M58 87h1.4M91 87h1.4M97 87h1.4M98 87h1.4M108 87h1.4M120 87h1.4M152 87h1.4M187 87h1.4M66 88h1.4M70 88h1.4M120 88h1.4M125 88h1.4M153 88h1.4M76 89h1.4M80 89h1.4M81 89h1.4M85 89h1.4M95 89h1.4M160 89h1.4M167 89h1.4M46 90h1.4M55 90h1.4M66 90h1.4M155 90h1.4M45 91h1.4M52 91h1.4M92 91h1.4M95 91h1.4M85 92h1.4M90 92h1.4M151 92h1.4M43 93h1.4M48 93h1.4M52 93h1.4M61 93h1.4M81 93h1.4M93 93h1.4M96 93h1.4M98 93h1.4M110 93h1.4M118 93h1.4M126 93h1.4M70 94h1.4M92 94h1.4M94 94h1.4M97 94h1.4M119 94h1.4M125 94h1.4M127 94h1.4M48 95h1.4M60 95h1.4M75 95h1.4M105 95h1.4M108 95h1.4M135 95h1.4M208 95h1.4M54 96h1.4M58 96h1.4M62 96h1.4M64 96h1.4M81 96h1.4M110 96h1.4M115 96h1.4M24 97h1.4M72 97h1.4M74 97h1.4M83 97h1.4M93 97h1.4M94 97h1.4M102 97h1.4M107 97h1.4M125 97h1.4M23 98h1.4M65 98h1.4M76 98h1.4M105 98h1.4M112 98h1.4M120 98h1.4M121 98h1.4M137 98h1.4M47 99h1.4M83 99h1.4M84 99h1.4M95 99h1.4M133 99h1.4M30 100h1.4M38 100h1.4M52 100h1.4M66 100h1.4M67 100h1.4M69 100h1.4M77 100h1.4M81 100h1.4M84 100h1.4M86 100h1.4M97 100h1.4M104 100h1.4M107 100h1.4M125 100h1.4M128 100h1.4M129 100h1.4M132 100h1.4M137 100h1.4M156 100h1.4M58 101h1.4M83 101h1.4M84 101h1.4M89 101h1.4M92 101h1.4M100 101h1.4M166 101h1.4M195 101h1.4M2 102h1.4M18 102h1.4M62 102h1.4M65 102h1.4M71 102h1.4M80 102h1.4M94 102h1.4M102 102h1.4M103 102h1.4M105 102h1.4M121 102h1.4M23 103h1.4M69 103h1.4M82 103h1.4M135 103h1.4M201 103h1.4M27 104h1.4M57 104h1.4M58 104h1.4M69 104h1.4M70 104h1.4M79 104h1.4M97 104h1.4M101 104h1.4M105 104h1.4M114 104h1.4M116 104h1.4M119 104h1.4M30 105h1.4M76 105h1.4M82 105h1.4M128 105h1.4M131 105h1.4M162 105h1.4M165 105h1.4M54 106h1.4M67 106h1.4M91 106h1.4M92 106h1.4M98 106h1.4M113 106h1.4M119 106h1.4M121 106h1.4M17 107h1.4M71 107h1.4M74 107h1.4M108 107h1.4M114 107h1.4M209 107h1.4M18 108h1.4M34 108h1.4M43 108h1.4M55 108h1.4M60 108h1.4M81 108h1.4M82 108h1.4M117 108h1.4M134 108h1.4M31 109h1.4M46 109h1.4M54 109h1.4M63 109h1.4M64 109h1.4M65 109h1.4M71 109h1.4M125 109h1.4M131 109h1.4M140 109h1.4M32 110h1.4M40 110h1.4M42 110h1.4M63 110h1.4M68 110h1.4M71 110h1.4M75 110h1.4M77 110h1.4M88 110h1.4M100 110h1.4M105 110h1.4M111 110h1.4M137 110h1.4M24 111h1.4M42 111h1.4M50 111h1.4M75 111h1.4M78 111h1.4M79 111h1.4M88 111h1.4M91 111h1.4M109 111h1.4M114 111h1.4M132 111h1.4M55 112h1.4M58 112h1.4M60 112h1.4M64 112h1.4M66 112h1.4M74 112h1.4M78 112h1.4M83 112h1.4M121 112h1.4M129 112h1.4M154 112h1.4M48 113h1.4M70 113h1.4M71 113h1.4M77 113h1.4M84 113h1.4M98 113h1.4M101 113h1.4M105 113h1.4M115 113h1.4M124 113h1.4M26 114h1.4M37 114h1.4M41 114h1.4M50 114h1.4M67 114h1.4M72 114h1.4M80 114h1.4M87 114h1.4M92 114h1.4M98 114h1.4M116 114h1.4M139 114h1.4M158 114h1.4M28 115h1.4M52 115h1.4M53 115h1.4M56 115h1.4M73 115h1.4M87 115h1.4M94 115h1.4M95 115h1.4M102 115h1.4M109 115h1.4M164 115h1.4M26 116h1.4M38 116h1.4M45 116h1.4M50 116h1.4M53 116h1.4M54 116h1.4M56 116h1.4M67 116h1.4M95 116h1.4M97 116h1.4M107 116h1.4M109 116h1.4M112 116h1.4M118 116h1.4M140 116h1.4M44 117h1.4M51 117h1.4M83 117h1.4M86 117h1.4M93 117h1.4M94 117h1.4M100 117h1.4M102 117h1.4M115 117h1.4M118 117h1.4M125 117h1.4M137 117h1.4M166 117h1.4M55 118h1.4M62 118h1.4M73 118h1.4M103 118h1.4M116 118h1.4M124 118h1.4M129 118h1.4M133 118h1.4M140 118h1.4M167 118h1.4M25 119h1.4M27 119h1.4M32 119h1.4M41 119h1.4M43 119h1.4M50 119h1.4M52 119h1.4M54 119h1.4M56 119h1.4M57 119h1.4M59 119h1.4M79 119h1.4M81 119h1.4M88 119h1.4M91 119h1.4M94 119h1.4M143 119h1.4M154 119h1.4M40 120h1.4M51 120h1.4M58 120h1.4M59 120h1.4M71 120h1.4M72 120h1.4M78 120h1.4M80 120h1.4M103 120h1.4M140 120h1.4M29 121h1.4M33 121h1.4M63 121h1.4M64 121h1.4M65 121h1.4M103 121h1.4M112 121h1.4M123 121h1.4M129 121h1.4M144 121h1.4M25 122h1.4M28 122h1.4M38 122h1.4M55 122h1.4M57 122h1.4M58 122h1.4M60 122h1.4M62 122h1.4M63 122h1.4M79 122h1.4M81 122h1.4M82 122h1.4M90 122h1.4M96 122h1.4M101 122h1.4M161 122h1.4M50 123h1.4M53 123h1.4M59 123h1.4M61 123h1.4M88 123h1.4M91 123h1.4M97 123h1.4M111 123h1.4M122 123h1.4M36 124h1.4M44 124h1.4M49 124h1.4M59 124h1.4M60 124h1.4M95 124h1.4M100 124h1.4M102 124h1.4M110 124h1.4M116 124h1.4M137 124h1.4M138 124h1.4M155 124h1.4M27 125h1.4M45 125h1.4M46 125h1.4M47 125h1.4M48 125h1.4M58 125h1.4M63 125h1.4M64 125h1.4M69 125h1.4M70 125h1.4M74 125h1.4M75 125h1.4M77 125h1.4M81 125h1.4M109 125h1.4M118 125h1.4M123 125h1.4M133 125h1.4M32 126h1.4M39 126h1.4M44 126h1.4M45 126h1.4M47 126h1.4M73 126h1.4M74 126h1.4M93 126h1.4M106 126h1.4M109 126h1.4M111 126h1.4M133 126h1.4M15 127h1.4M32 127h1.4M39 127h1.4M45 127h1.4M51 127h1.4M56 127h1.4M60 127h1.4M61 127h1.4M62 127h1.4M63 127h1.4M70 127h1.4M77 127h1.4M79 127h1.4M80 127h1.4M81 127h1.4M91 127h1.4M92 127h1.4M109 127h1.4M110 127h1.4M23 128h1.4M37 128h1.4M45 128h1.4M50 128h1.4M52 128h1.4M53 128h1.4M56 128h1.4M57 128h1.4M62 128h1.4M64 128h1.4M71 128h1.4M74 128h1.4M75 128h1.4M81 128h1.4M88 128h1.4M97 128h1.4M104 128h1.4M132 128h1.4M135 128h1.4M42 129h1.4M46 129h1.4M47 129h1.4M49 129h1.4M52 129h1.4M60 129h1.4M61 129h1.4M63 129h1.4M66 129h1.4M67 129h1.4M75 129h1.4M79 129h1.4M80 129h1.4M96 129h1.4M103 129h1.4M114 129h1.4M117 129h1.4M119 129h1.4M149 129h1.4M45 130h1.4M46 130h1.4M47 130h1.4M48 130h1.4M49 130h1.4M55 130h1.4M56 130h1.4M58 130h1.4M62 130h1.4M63 130h1.4M64 130h1.4M66 130h1.4M74 130h1.4M81 130h1.4M82 130h1.4M84 130h1.4M88 130h1.4M98 130h1.4M100 130h1.4M115 130h1.4M121 130h1.4M124 130h1.4M129 130h1.4M135 130h1.4M140 130h1.4M146 130h1.4M163 130h1.4M50 131h1.4M51 131h1.4M52 131h1.4M53 131h1.4M54 131h1.4M55 131h1.4M57 131h1.4M59 131h1.4M60 131h1.4M65 131h1.4M69 131h1.4M86 131h1.4M93 131h1.4M177 131h1.4M42 132h1.4M44 132h1.4M47 132h1.4M49 132h1.4M50 132h1.4M53 132h1.4M55 132h1.4M57 132h1.4M59 132h1.4M61 132h1.4M63 132h1.4M67 132h1.4M70 132h1.4M71 132h1.4M72 132h1.4M76 132h1.4M78 132h1.4M93 132h1.4M96 132h1.4M101 132h1.4M112 132h1.4M114 132h1.4M42 133h1.4M47 133h1.4M49 133h1.4M51 133h1.4M54 133h1.4M55 133h1.4M59 133h1.4M60 133h1.4M63 133h1.4M69 133h1.4M71 133h1.4M80 133h1.4M99 133h1.4M102 133h1.4M127 133h1.4M128 133h1.4M23 134h1.4M30 134h1.4M34 134h1.4M36 134h1.4M37 134h1.4M48 134h1.4M49 134h1.4M51 134h1.4M56 134h1.4M57 134h1.4M62 134h1.4M63 134h1.4M64 134h1.4M65 134h1.4M79 134h1.4M109 134h1.4M160 134h1.4M171 134h1.4M195 134h1.4M28 135h1.4M34 135h1.4M46 135h1.4M50 135h1.4M53 135h1.4M54 135h1.4M56 135h1.4M60 135h1.4M61 135h1.4M68 135h1.4M70 135h1.4M71 135h1.4M80 135h1.4M82 135h1.4M84 135h1.4M118 135h1.4M141 135h1.4M151 135h1.4M168 135h1.4M31 136h1.4M36 136h1.4M38 136h1.4M39 136h1.4M40 136h1.4M41 136h1.4M44 136h1.4M45 136h1.4M49 136h1.4M53 136h1.4M61 136h1.4M63 136h1.4M66 136h1.4M67 136h1.4M73 136h1.4M80 136h1.4M82 136h1.4M89 136h1.4M102 136h1.4M115 136h1.4M35 137h1.4M40 137h1.4M41 137h1.4M43 137h1.4M44 137h1.4M46 137h1.4M48 137h1.4M49 137h1.4M50 137h1.4M51 137h1.4M53 137h1.4M55 137h1.4M56 137h1.4M57 137h1.4M58 137h1.4M59 137h1.4M61 137h1.4M63 137h1.4M64 137h1.4M65 137h1.4M66 137h1.4M69 137h1.4M71 137h1.4M75 137h1.4M78 137h1.4M82 137h1.4M87 137h1.4M88 137h1.4M96 137h1.4M117 137h1.4M34 138h1.4M37 138h1.4M38 138h1.4M44 138h1.4M45 138h1.4M49 138h1.4M51 138h1.4M52 138h1.4M54 138h1.4M55 138h1.4M57 138h1.4M58 138h1.4M59 138h1.4M60 138h1.4M62 138h1.4M67 138h1.4M69 138h1.4M71 138h1.4M72 138h1.4M73 138h1.4M75 138h1.4M77 138h1.4M81 138h1.4M82 138h1.4M86 138h1.4M87 138h1.4M88 138h1.4M90 138h1.4M94 138h1.4M111 138h1.4M122 138h1.4M14 139h1.4M34 139h1.4M38 139h1.4M39 139h1.4M47 139h1.4M50 139h1.4M52 139h1.4M55 139h1.4M56 139h1.4M58 139h1.4M59 139h1.4M60 139h1.4M62 139h1.4M63 139h1.4M64 139h1.4M68 139h1.4M69 139h1.4M70 139h1.4M71 139h1.4M73 139h1.4M90 139h1.4M101 139h1.4M102 139h1.4M103 139h1.4M135 139h1.4M144 139h1.4M15 140h1.4M37 140h1.4M38 140h1.4M41 140h1.4M42 140h1.4M46 140h1.4M47 140h1.4M48 140h1.4M49 140h1.4M50 140h1.4M51 140h1.4M52 140h1.4M55 140h1.4M56 140h1.4M58 140h1.4M59 140h1.4M60 140h1.4M61 140h1.4M64 140h1.4M68 140h1.4M70 140h1.4M73 140h1.4M84 140h1.4M85 140h1.4M99 140h1.4M146 140h1.4M27 141h1.4M34 141h1.4M42 141h1.4M46 141h1.4M48 141h1.4M52 141h1.4M54 141h1.4M56 141h1.4M57 141h1.4M60 141h1.4M61 141h1.4M63 141h1.4M64 141h1.4M66 141h1.4M67 141h1.4M68 141h1.4M69 141h1.4M74 141h1.4M75 141h1.4M79 141h1.4M80 141h1.4M81 141h1.4M83 141h1.4M86 141h1.4M32 142h1.4M42 142h1.4M44 142h1.4M45 142h1.4M47 142h1.4M48 142h1.4M49 142h1.4M50 142h1.4M52 142h1.4M54 142h1.4M55 142h1.4M56 142h1.4M57 142h1.4M58 142h1.4M59 142h1.4M60 142h1.4M62 142h1.4M63 142h1.4M64 142h1.4M66 142h1.4M71 142h1.4M72 142h1.4M73 142h1.4M74 142h1.4M88 142h1.4M105 142h1.4M112 142h1.4M127 142h1.4M130 142h1.4M211 142h1.4M39 143h1.4M44 143h1.4M48 143h1.4M50 143h1.4M54 143h1.4M55 143h1.4M56 143h1.4M57 143h1.4M58 143h1.4M59 143h1.4M60 143h1.4M61 143h1.4M64 143h1.4M65 143h1.4M66 143h1.4M70 143h1.4M71 143h1.4M74 143h1.4M75 143h1.4M80 143h1.4M85 143h1.4M87 143h1.4M89 143h1.4M114 143h1.4M128 143h1.4M146 143h1.4M36 144h1.4M38 144h1.4M42 144h1.4M43 144h1.4M46 144h1.4M49 144h1.4M50 144h1.4M51 144h1.4M53 144h1.4M54 144h1.4M55 144h1.4M56 144h1.4M57 144h1.4M59 144h1.4M61 144h1.4M63 144h1.4M64 144h1.4M67 144h1.4M68 144h1.4M70 144h1.4M71 144h1.4M73 144h1.4M76 144h1.4M77 144h1.4M82 144h1.4M87 144h1.4M94 144h1.4M97 144h1.4M26 145h1.4M42 145h1.4M46 145h1.4M47 145h1.4M48 145h1.4M49 145h1.4M50 145h1.4M52 145h1.4M53 145h1.4M54 145h1.4M56 145h1.4M57 145h1.4M58 145h1.4M60 145h1.4M61 145h1.4M62 145h1.4M63 145h1.4M65 145h1.4M66 145h1.4M68 145h1.4M70 145h1.4M87 145h1.4M88 145h1.4M91 145h1.4M98 145h1.4M100 145h1.4M106 145h1.4M116 145h1.4M120 145h1.4M122 145h1.4M135 145h1.4M9 146h1.4M39 146h1.4M41 146h1.4M43 146h1.4M45 146h1.4M47 146h1.4M48 146h1.4M50 146h1.4M51 146h1.4M52 146h1.4M53 146h1.4M56 146h1.4M57 146h1.4M60 146h1.4M65 146h1.4M67 146h1.4M68 146h1.4M71 146h1.4M72 146h1.4M76 146h1.4M80 146h1.4M84 146h1.4M92 146h1.4M98 146h1.4M133 146h1.4M29 147h1.4M33 147h1.4M41 147h1.4M44 147h1.4M49 147h1.4M51 147h1.4M52 147h1.4M55 147h1.4M56 147h1.4M57 147h1.4M58 147h1.4M59 147h1.4M62 147h1.4M64 147h1.4M66 147h1.4M67 147h1.4M70 147h1.4M71 147h1.4M76 147h1.4M90 147h1.4M124 147h1.4M30 148h1.4M42 148h1.4M44 148h1.4M50 148h1.4M51 148h1.4M52 148h1.4M53 148h1.4M54 148h1.4M55 148h1.4M56 148h1.4M58 148h1.4M59 148h1.4M61 148h1.4M62 148h1.4M63 148h1.4M65 148h1.4M69 148h1.4M70 148h1.4M71 148h1.4M74 148h1.4M84 148h1.4M93 148h1.4M94 148h1.4M101 148h1.4M117 148h1.4M145 148h1.4M43 149h1.4M44 149h1.4M51 149h1.4M52 149h1.4M53 149h1.4M55 149h1.4M56 149h1.4M57 149h1.4M58 149h1.4M62 149h1.4M64 149h1.4M67 149h1.4M68 149h1.4M69 149h1.4M70 149h1.4M72 149h1.4M73 149h1.4M79 149h1.4M88 149h1.4M93 149h1.4M95 149h1.4M98 149h1.4M100 149h1.4M109 149h1.4M162 149h1.4M165 149h1.4M23 150h1.4M39 150h1.4M41 150h1.4M43 150h1.4M44 150h1.4M46 150h1.4M48 150h1.4M49 150h1.4M51 150h1.4M52 150h1.4M53 150h1.4M57 150h1.4M58 150h1.4M60 150h1.4M61 150h1.4M65 150h1.4M67 150h1.4M69 150h1.4M70 150h1.4M72 150h1.4M75 150h1.4M78 150h1.4M83 150h1.4M117 150h1.4M122 150h1.4M16 151h1.4M42 151h1.4M45 151h1.4M49 151h1.4M50 151h1.4M53 151h1.4M54 151h1.4M55 151h1.4M56 151h1.4M57 151h1.4M58 151h1.4M59 151h1.4M60 151h1.4M61 151h1.4M63 151h1.4M64 151h1.4M65 151h1.4M67 151h1.4M96 151h1.4M188 151h1.4M23 152h1.4M39 152h1.4M41 152h1.4M42 152h1.4M44 152h1.4M47 152h1.4M50 152h1.4M51 152h1.4M52 152h1.4M55 152h1.4M56 152h1.4M58 152h1.4M59 152h1.4M63 152h1.4M66 152h1.4M69 152h1.4M72 152h1.4M74 152h1.4M75 152h1.4M79 152h1.4M80 152h1.4M89 152h1.4M93 152h1.4M94 152h1.4M119 152h1.4M140 152h1.4M27 153h1.4M36 153h1.4M39 153h1.4M51 153h1.4M56 153h1.4M60 153h1.4M62 153h1.4M63 153h1.4M68 153h1.4M71 153h1.4M80 153h1.4M98 153h1.4M108 153h1.4M109 153h1.4M117 153h1.4M138 153h1.4M42 154h1.4M44 154h1.4M48 154h1.4M50 154h1.4M52 154h1.4M59 154h1.4M60 154h1.4M63 154h1.4M64 154h1.4M66 154h1.4M67 154h1.4M73 154h1.4M84 154h1.4M87 154h1.4M90 154h1.4M91 154h1.4M99 154h1.4M136 154h1.4M11 155h1.4M38 155h1.4M40 155h1.4M46 155h1.4M49 155h1.4M52 155h1.4M54 155h1.4M55 155h1.4M56 155h1.4M57 155h1.4M60 155h1.4M62 155h1.4M63 155h1.4M72 155h1.4M73 155h1.4M89 155h1.4M100 155h1.4M205 155h1.4M22 156h1.4M24 156h1.4M29 156h1.4M40 156h1.4M47 156h1.4M55 156h1.4M57 156h1.4M58 156h1.4M61 156h1.4M62 156h1.4M63 156h1.4M65 156h1.4M69 156h1.4M76 156h1.4M81 156h1.4M84 156h1.4M99 156h1.4M132 156h1.4M159 156h1.4M36 157h1.4M37 157h1.4M45 157h1.4M48 157h1.4M54 157h1.4M58 157h1.4M64 157h1.4M66 157h1.4M67 157h1.4M71 157h1.4M78 157h1.4M80 157h1.4M114 157h1.4M116 157h1.4M121 157h1.4M136 157h1.4M35 158h1.4M36 158h1.4M42 158h1.4M43 158h1.4M44 158h1.4M49 158h1.4M51 158h1.4M52 158h1.4M53 158h1.4M55 158h1.4M56 158h1.4M57 158h1.4M61 158h1.4M64 158h1.4M68 158h1.4M73 158h1.4M82 158h1.4M83 158h1.4M91 158h1.4M101 158h1.4M126 158h1.4M149 158h1.4M46 159h1.4M52 159h1.4M53 159h1.4M54 159h1.4M55 159h1.4M61 159h1.4M62 159h1.4M64 159h1.4M66 159h1.4M68 159h1.4M70 159h1.4M72 159h1.4M92 159h1.4M175 159h1.4M28 160h1.4M31 160h1.4M34 160h1.4M54 160h1.4M60 160h1.4M62 160h1.4M65 160h1.4M68 160h1.4M69 160h1.4M79 160h1.4M128 160h1.4M37 161h1.4M50 161h1.4M51 161h1.4M55 161h1.4M59 161h1.4M63 161h1.4M68 161h1.4M87 161h1.4M138 161h1.4M178 161h1.4M29 162h1.4M37 162h1.4M39 162h1.4M46 162h1.4M52 162h1.4M53 162h1.4M55 162h1.4M58 162h1.4M61 162h1.4M62 162h1.4M65 162h1.4M84 162h1.4M86 162h1.4M87 162h1.4M94 162h1.4M96 162h1.4M112 162h1.4M126 162h1.4M57 163h1.4M60 163h1.4M65 163h1.4M68 163h1.4M73 163h1.4M80 163h1.4M91 163h1.4M106 163h1.4M109 163h1.4M112 163h1.4M113 163h1.4M140 163h1.4M29 164h1.4M38 164h1.4M39 164h1.4M42 164h1.4M47 164h1.4M49 164h1.4M53 164h1.4M70 164h1.4M80 164h1.4M48 165h1.4M51 165h1.4M52 165h1.4M55 165h1.4M69 165h1.4M82 165h1.4M102 165h1.4M127 165h1.4M162 165h1.4M6 166h1.4M32 166h1.4M53 166h1.4M78 166h1.4M92 166h1.4M108 166h1.4M116 166h1.4M36 167h1.4M63 167h1.4M77 167h1.4M79 167h1.4M80 167h1.4M34 168h1.4M40 168h1.4M49 168h1.4M50 168h1.4M59 168h1.4M64 168h1.4M73 168h1.4M77 168h1.4M89 168h1.4M94 168h1.4M98 168h1.4M171 168h1.4M35 169h1.4M48 169h1.4M60 169h1.4M87 169h1.4M95 169h1.4M101 169h1.4M107 169h1.4M53 170h1.4M72 170h1.4M134 170h1.4M32 171h1.4M39 171h1.4M50 171h1.4M64 171h1.4M66 171h1.4M87 171h1.4M99 171h1.4M104 171h1.4M108 171h1.4M47 172h1.4M156 172h1.4M18 173h1.4M28 173h1.4M30 173h1.4M41 173h1.4M49 173h1.4M51 173h1.4M66 173h1.4M79 173h1.4M81 173h1.4M89 173h1.4M97 173h1.4M131 173h1.4M51 174h1.4M63 174h1.4M110 174h1.4M142 174h1.4M8 175h1.4M32 175h1.4M37 175h1.4M53 175h1.4M83 175h1.4M86 175h1.4M124 175h1.4M140 175h1.4M34 176h1.4M58 176h1.4M62 176h1.4M75 176h1.4M112 176h1.4M137 176h1.4M33 177h1.4M40 177h1.4M44 177h1.4M49 177h1.4M57 177h1.4M70 177h1.4M82 177h1.4M84 177h1.4M102 177h1.4M103 177h1.4M119 177h1.4M127 177h1.4M130 177h1.4M93 178h1.4M99 178h1.4M134 178h1.4M27 179h1.4M48 179h1.4M66 179h1.4M69 179h1.4M81 179h1.4M129 179h1.4M152 179h1.4M23 180h1.4M48 180h1.4M52 180h1.4M79 180h1.4M86 180h1.4M133 180h1.4M23 181h1.4M26 181h1.4M37 181h1.4M40 181h1.4M51 181h1.4M53 181h1.4M59 181h1.4M70 181h1.4M89 181h1.4M92 181h1.4M97 181h1.4M125 181h1.4M24 182h1.4M29 182h1.4M61 182h1.4M69 182h1.4M92 182h1.4M142 182h1.4M26 183h1.4M53 183h1.4M56 183h1.4M82 183h1.4M85 183h1.4M92 183h1.4M94 183h1.4M108 183h1.4M155 183h1.4M32 184h1.4M47 184h1.4M60 184h1.4M83 184h1.4M43 185h1.4M69 185h1.4M82 185h1.4M120 185h1.4M28 186h1.4M40 186h1.4M121 186h1.4M4 187h1.4M36 187h1.4M62 187h1.4M72 187h1.4M26 188h1.4M76 188h1.4M79 188h1.4M80 188h1.4M97 188h1.4M103 188h1.4M117 188h1.4M19 189h1.4M139 189h1.4M72 190h1.4M17 191h1.4M104 191h1.4M165 191h1.4M27 192h1.4M92 192h1.4M93 192h1.4M90 193h1.4M61 194h1.4M144 194h1.4" stroke="#231f20" stroke-width="1.4" fill="none"/></g>
<g transform="translate(792 579.02) scale(1.25)"><path d="M10 137h1M16 139h1M1 142h1M12 144h1M1 145h1m14 0h1M46 149h1M12 150h1m3 0h1M6 151h1M1 152h1m7 0h1M1 153h1M23 154h1M4 155h1m3 0h1M5 156h1m3 0h1m6 0h1M3 157h1m7 0h1m5 0h1M0 158h1m15 0h1m9 0h1M1 159h1m1 0h1m6 0h2m23 0h1M1 160h1m3 0h1m5 0h1m8 0h1M2 161h2m2 0h1m1 0h1m2 0h1m2 0h1m7 0h1M0 162h2m1 0h6m3 0h2m1 0h1M0 163h1m1 0h7m1 0h4m6 0h1M0 164h3m1 0h2m1 0h1m1 0h2m6 0h1m1 0h1M0 165h7m1 0h1m7 0h1m1 0h1m14 0h1M0 166h7m1 0h3m1 0h3m9 0h2M0 167h4m1 0h7m1 0h1m1 0h1m1 0h1m21 0h1M0 168h10m1 0h5m1 0h3m8 0h1m8 0h1m7 0h1M0 169h16m1 0h1m2 0h2m11 0h2m7 0h1M0 170h5m1 0h8m4 0h3m1 0h1m1 0h1m9 0h1m2 0h1m7 0h1M0 171h19m1 0h1m3 0h1M0 172h20m1 0h1m16 0h1M0 173h22m2 0h3m2 0h1m1 0h1m3 0h1m1 0h1M0 174h2m1 0h21m2 0h3M0 175h15m1 0h7m1 0h3m1 0h1m1 0h1m8 0h2M0 176h7m1 0h6m1 0h2m1 0h11m2 0h1m1 0h1m9 0h1M0 177h11m1 0h5m1 0h5m2 0h3M0 178h1m1 0h13m1 0h10m2 0h2m4 0h1M0 179h7m1 0h19m14 0h1M0 180h15m1 0h5m1 0h1m1 0h4m6 0h1m14 0h1M0 181h2m1 0h6m1 0h7m1 0h2m1 0h4m1 0h2m2 0h2m16 0h1M0 182h15m2 0h1m1 0h1m2 0h3M0 183h13m1 0h3m2 0h2m1 0h1M0 184h10m1 0h6m1 0h5m2 0h1M0 185h17m1 0h1m1 0h2m2 0h1m2 0h1m11 0h1m1 0h1M0 186h10m1 0h7m3 0h3m23 0h1M0 187h21m2 0h2m7 0h1M0 188h9m3 0h9m3 0h1M0 189h8m2 0h8m1 0h1m3 0h1m1 0h1M0 190h7m1 0h8m2 0h1m1 0h1m13 0h1M0 191h5m1 0h10m2 0h1m1 0h1m1 0h1M0 192h15m1 0h2m1 0h2m1 0h1M0 193h15m2 0h2m2 0h2m4 0h1M0 194h14m2 0h2m12 0h1" stroke="#ec1b3b" stroke-width="1.14" fill="none"/></g>
<g transform="translate(792 579.02) scale(1.25)"><path d="M15 0h1.4M16 0h1.4M36 0h1.4M45 0h1.4M47 0h1.4M48 0h1.4M52 0h1.4M54 0h1.4M57 0h1.4M66 0h1.4M72 0h1.4M74 0h1.4M77 0h1.4M78 0h1.4M86 0h1.4M93 0h1.4M94 0h1.4M95 0h1.4M100 0h1.4M101 0h1.4M105 0h1.4M110 0h1.4M118 0h1.4M125 0h1.4M128 0h1.4M131 0h1.4M236 0h1.4M123 2h1.4M42 6h1.4M103 13h1.4M68 16h1.4M139 19h1.4M85 27h1.4M224 29h1.4M109 33h1.4M75 34h1.4M114 35h1.4M99 38h1.4M140 38h1.4M153 38h1.4M134 40h1.4M106 43h1.4M166 44h1.4M107 45h1.4M39 46h1.4M236 46h1.4M38 48h1.4M89 48h1.4M144 48h1.4M158 48h1.4M225 49h1.4M83 50h1.4M122 50h1.4M56 51h1.4M176 52h1.4M151 53h1.4M185 53h1.4M69 54h1.4M108 54h1.4M114 54h1.4M140 56h1.4M122 58h1.4M103 59h1.4M119 60h1.4M134 60h1.4M133 61h1.4M194 63h1.4M73 64h1.4M38 65h1.4M193 66h1.4M93 68h1.4M116 68h1.4M144 68h1.4M211 68h1.4M50 69h1.4M54 69h1.4M119 69h1.4M128 71h1.4M180 71h1.4M76 72h1.4M238 72h1.4M96 74h1.4M104 76h1.4M113 76h1.4M84 78h1.4M150 78h1.4M71 79h1.4M88 79h1.4M39 80h1.4M73 80h1.4M164 80h1.4M176 80h1.4M42 81h1.4M73 81h1.4M98 81h1.4M46 82h1.4M51 82h1.4M94 83h1.4M100 83h1.4M129 83h1.4M132 84h1.4M192 84h1.4M83 85h1.4M93 85h1.4M133 85h1.4M56 87h1.4M63 87h1.4M224 87h1.4M69 88h1.4M80 89h1.4M105 89h1.4M111 89h1.4M74 90h1.4M76 91h1.4M127 91h1.4M139 91h1.4M143 91h1.4M99 92h1.4M115 92h1.4M125 92h1.4M159 92h1.4M56 93h1.4M48 94h1.4M79 94h1.4M84 94h1.4M183 94h1.4M30 95h1.4M36 95h1.4M53 95h1.4M94 95h1.4M100 95h1.4M103 95h1.4M30 96h1.4M69 96h1.4M120 97h1.4M140 97h1.4M34 98h1.4M106 98h1.4M227 99h1.4M40 100h1.4M52 100h1.4M55 100h1.4M97 100h1.4M63 101h1.4M86 101h1.4M110 101h1.4M120 101h1.4M121 101h1.4M148 101h1.4M179 101h1.4M37 102h1.4M127 102h1.4M129 102h1.4M36 103h1.4M37 103h1.4M132 103h1.4M136 103h1.4M144 103h1.4M21 104h1.4M65 104h1.4M70 104h1.4M84 104h1.4M88 104h1.4M89 104h1.4M99 104h1.4M108 104h1.4M114 104h1.4M136 104h1.4M74 105h1.4M78 105h1.4M82 105h1.4M99 105h1.4M103 105h1.4M42 106h1.4M47 106h1.4M64 106h1.4M68 106h1.4M88 106h1.4M91 106h1.4M103 106h1.4M135 106h1.4M143 106h1.4M148 106h1.4M39 107h1.4M40 107h1.4M61 107h1.4M62 107h1.4M68 107h1.4M78 107h1.4M95 107h1.4M107 107h1.4M168 107h1.4M30 108h1.4M42 108h1.4M46 108h1.4M59 108h1.4M67 108h1.4M76 108h1.4M80 108h1.4M84 108h1.4M89 108h1.4M101 108h1.4M158 108h1.4M24 109h1.4M31 109h1.4M103 109h1.4M32 110h1.4M64 110h1.4M67 110h1.4M68 110h1.4M70 110h1.4M92 110h1.4M95 110h1.4M97 110h1.4M101 110h1.4M111 110h1.4M43 111h1.4M57 111h1.4M60 111h1.4M61 111h1.4M78 111h1.4M27 112h1.4M70 112h1.4M189 112h1.4M28 113h1.4M86 113h1.4M112 113h1.4M118 113h1.4M25 114h1.4M40 114h1.4M56 114h1.4M72 114h1.4M79 114h1.4M119 114h1.4M43 115h1.4M44 115h1.4M52 115h1.4M53 115h1.4M71 115h1.4M73 115h1.4M79 115h1.4M89 115h1.4M101 115h1.4M147 115h1.4M30 116h1.4M33 116h1.4M50 116h1.4M58 116h1.4M62 116h1.4M74 116h1.4M109 116h1.4M123 116h1.4M139 116h1.4M42 117h1.4M47 117h1.4M67 117h1.4M71 117h1.4M72 117h1.4M95 117h1.4M116 117h1.4M28 118h1.4M29 118h1.4M37 118h1.4M63 118h1.4M64 118h1.4M66 118h1.4M72 118h1.4M79 118h1.4M122 118h1.4M32 119h1.4M41 119h1.4M44 119h1.4M51 119h1.4M64 119h1.4M67 119h1.4M75 119h1.4M87 119h1.4M35 120h1.4M49 120h1.4M51 120h1.4M74 120h1.4M81 120h1.4M85 120h1.4M100 120h1.4M122 120h1.4M167 120h1.4M187 120h1.4M51 121h1.4M56 121h1.4M63 121h1.4M70 121h1.4M75 121h1.4M90 121h1.4M49 122h1.4M59 122h1.4M64 122h1.4M68 122h1.4M91 122h1.4M92 122h1.4M113 122h1.4M22 123h1.4M29 123h1.4M35 123h1.4M47 123h1.4M48 123h1.4M54 123h1.4M56 123h1.4M61 123h1.4M81 123h1.4M89 123h1.4M108 123h1.4M144 123h1.4M146 123h1.4M202 123h1.4M64 124h1.4M72 124h1.4M74 124h1.4M77 124h1.4M82 124h1.4M95 124h1.4M98 124h1.4M111 124h1.4M25 125h1.4M28 125h1.4M45 125h1.4M47 125h1.4M49 125h1.4M52 125h1.4M65 125h1.4M67 125h1.4M70 125h1.4M84 125h1.4M99 125h1.4M108 125h1.4M132 125h1.4M25 126h1.4M41 126h1.4M44 126h1.4M49 126h1.4M54 126h1.4M70 126h1.4M77 126h1.4M78 126h1.4M97 126h1.4M101 126h1.4M145 126h1.4M31 127h1.4M33 127h1.4M34 127h1.4M35 127h1.4M37 127h1.4M45 127h1.4M49 127h1.4M64 127h1.4M74 127h1.4M80 127h1.4M87 127h1.4M186 127h1.4M34 128h1.4M36 128h1.4M38 128h1.4M41 128h1.4M47 128h1.4M49 128h1.4M51 128h1.4M59 128h1.4M67 128h1.4M79 128h1.4M89 128h1.4M92 128h1.4M98 128h1.4M100 128h1.4M114 128h1.4M242 128h1.4M28 129h1.4M33 129h1.4M43 129h1.4M44 129h1.4M46 129h1.4M48 129h1.4M56 129h1.4M60 129h1.4M63 129h1.4M64 129h1.4M69 129h1.4M79 129h1.4M89 129h1.4M92 129h1.4M103 129h1.4M107 129h1.4M125 129h1.4M131 129h1.4M152 129h1.4M58 130h1.4M64 130h1.4M65 130h1.4M68 130h1.4M74 130h1.4M78 130h1.4M81 130h1.4M151 130h1.4M37 131h1.4M43 131h1.4M44 131h1.4M46 131h1.4M50 131h1.4M63 131h1.4M66 131h1.4M69 131h1.4M77 131h1.4M82 131h1.4M90 131h1.4M95 131h1.4M123 131h1.4M24 132h1.4M32 132h1.4M37 132h1.4M43 132h1.4M45 132h1.4M46 132h1.4M48 132h1.4M50 132h1.4M52 132h1.4M55 132h1.4M56 132h1.4M61 132h1.4M71 132h1.4M72 132h1.4M74 132h1.4M82 132h1.4M87 132h1.4M104 132h1.4M106 132h1.4M114 132h1.4M123 132h1.4M182 132h1.4M213 132h1.4M34 133h1.4M39 133h1.4M45 133h1.4M50 133h1.4M51 133h1.4M53 133h1.4M56 133h1.4M58 133h1.4M62 133h1.4M67 133h1.4M70 133h1.4M85 133h1.4M90 133h1.4M26 134h1.4M28 134h1.4M31 134h1.4M32 134h1.4M38 134h1.4M40 134h1.4M41 134h1.4M42 134h1.4M45 134h1.4M51 134h1.4M53 134h1.4M54 134h1.4M55 134h1.4M57 134h1.4M60 134h1.4M62 134h1.4M63 134h1.4M64 134h1.4M79 134h1.4M80 134h1.4M86 134h1.4M104 134h1.4M125 134h1.4M178 134h1.4M206 134h1.4M26 135h1.4M31 135h1.4M33 135h1.4M36 135h1.4M38 135h1.4M40 135h1.4M43 135h1.4M46 135h1.4M47 135h1.4M49 135h1.4M50 135h1.4M51 135h1.4M53 135h1.4M57 135h1.4M59 135h1.4M60 135h1.4M63 135h1.4M68 135h1.4M69 135h1.4M80 135h1.4M86 135h1.4M87 135h1.4M89 135h1.4M98 135h1.4M127 135h1.4M161 135h1.4M20 136h1.4M27 136h1.4M28 136h1.4M35 136h1.4M36 136h1.4M37 136h1.4M38 136h1.4M40 136h1.4M41 136h1.4M46 136h1.4M47 136h1.4M48 136h1.4M51 136h1.4M52 136h1.4M53 136h1.4M57 136h1.4M61 136h1.4M63 136h1.4M69 136h1.4M70 136h1.4M71 136h1.4M76 136h1.4M84 136h1.4M86 136h1.4M96 136h1.4M107 136h1.4M118 136h1.4M19 137h1.4M29 137h1.4M31 137h1.4M34 137h1.4M38 137h1.4M42 137h1.4M44 137h1.4M45 137h1.4M46 137h1.4M47 137h1.4M48 137h1.4M52 137h1.4M53 137h1.4M54 137h1.4M55 137h1.4M56 137h1.4M58 137h1.4M59 137h1.4M62 137h1.4M63 137h1.4M64 137h1.4M65 137h1.4M67 137h1.4M69 137h1.4M70 137h1.4M73 137h1.4M79 137h1.4M95 137h1.4M113 137h1.4M133 137h1.4M26 138h1.4M28 138h1.4M34 138h1.4M35 138h1.4M36 138h1.4M37 138h1.4M43 138h1.4M44 138h1.4M45 138h1.4M46 138h1.4M47 138h1.4M49 138h1.4M51 138h1.4M52 138h1.4M55 138h1.4M56 138h1.4M57 138h1.4M58 138h1.4M59 138h1.4M60 138h1.4M61 138h1.4M62 138h1.4M63 138h1.4M64 138h1.4M65 138h1.4M67 138h1.4M73 138h1.4M78 138h1.4M97 138h1.4M100 138h1.4M112 138h1.4M118 138h1.4M119 138h1.4M129 138h1.4M26 139h1.4M29 139h1.4M31 139h1.4M32 139h1.4M34 139h1.4M35 139h1.4M37 139h1.4M38 139h1.4M39 139h1.4M40 139h1.4M41 139h1.4M43 139h1.4M45 139h1.4M46 139h1.4M47 139h1.4M48 139h1.4M52 139h1.4M53 139h1.4M54 139h1.4M55 139h1.4M56 139h1.4M57 139h1.4M58 139h1.4M61 139h1.4M62 139h1.4M64 139h1.4M65 139h1.4M67 139h1.4M68 139h1.4M69 139h1.4M71 139h1.4M72 139h1.4M75 139h1.4M79 139h1.4M80 139h1.4M82 139h1.4M103 139h1.4M113 139h1.4M164 139h1.4M21 140h1.4M24 140h1.4M26 140h1.4M28 140h1.4M30 140h1.4M31 140h1.4M33 140h1.4M34 140h1.4M39 140h1.4M40 140h1.4M41 140h1.4M42 140h1.4M43 140h1.4M44 140h1.4M45 140h1.4M47 140h1.4M48 140h1.4M49 140h1.4M50 140h1.4M51 140h1.4M52 140h1.4M53 140h1.4M55 140h1.4M56 140h1.4M57 140h1.4M58 140h1.4M59 140h1.4M60 140h1.4M61 140h1.4M62 140h1.4M63 140h1.4M64 140h1.4M65 140h1.4M69 140h1.4M70 140h1.4M71 140h1.4M73 140h1.4M83 140h1.4M85 140h1.4M86 140h1.4M92 140h1.4M98 140h1.4M99 140h1.4M103 140h1.4M105 140h1.4M107 140h1.4M108 140h1.4M14 141h1.4M25 141h1.4M28 141h1.4M30 141h1.4M31 141h1.4M35 141h1.4M36 141h1.4M37 141h1.4M38 141h1.4M40 141h1.4M41 141h1.4M43 141h1.4M44 141h1.4M45 141h1.4M46 141h1.4M47 141h1.4M49 141h1.4M50 141h1.4M51 141h1.4M53 141h1.4M54 141h1.4M55 141h1.4M57 141h1.4M59 141h1.4M60 141h1.4M61 141h1.4M62 141h1.4M63 141h1.4M67 141h1.4M71 141h1.4M76 141h1.4M79 141h1.4M83 141h1.4M87 141h1.4M93 141h1.4M108 141h1.4M25 142h1.4M26 142h1.4M29 142h1.4M32 142h1.4M33 142h1.4M35 142h1.4M36 142h1.4M37 142h1.4M38 142h1.4M39 142h1.4M40 142h1.4M41 142h1.4M42 142h1.4M43 142h1.4M44 142h1.4M45 142h1.4M46 142h1.4M47 142h1.4M48 142h1.4M49 142h1.4M51 142h1.4M52 142h1.4M53 142h1.4M54 142h1.4M56 142h1.4M58 142h1.4M59 142h1.4M60 142h1.4M61 142h1.4M62 142h1.4M64 142h1.4M66 142h1.4M67 142h1.4M68 142h1.4M69 142h1.4M70 142h1.4M72 142h1.4M76 142h1.4M79 142h1.4M83 142h1.4M94 142h1.4M96 142h1.4M98 142h1.4M124 142h1.4M26 143h1.4M27 143h1.4M28 143h1.4M29 143h1.4M31 143h1.4M32 143h1.4M33 143h1.4M34 143h1.4M35 143h1.4M36 143h1.4M37 143h1.4M38 143h1.4M39 143h1.4M40 143h1.4M41 143h1.4M42 143h1.4M43 143h1.4M44 143h1.4M45 143h1.4M47 143h1.4M48 143h1.4M49 143h1.4M51 143h1.4M52 143h1.4M53 143h1.4M54 143h1.4M55 143h1.4M57 143h1.4M59 143h1.4M60 143h1.4M61 143h1.4M62 143h1.4M63 143h1.4M68 143h1.4M71 143h1.4M78 143h1.4M79 143h1.4M81 143h1.4M92 143h1.4M97 143h1.4M99 143h1.4M22 144h1.4M24 144h1.4M26 144h1.4M28 144h1.4M31 144h1.4M32 144h1.4M33 144h1.4M34 144h1.4M35 144h1.4M36 144h1.4M37 144h1.4M38 144h1.4M39 144h1.4M40 144h1.4M41 144h1.4M42 144h1.4M43 144h1.4M44 144h1.4M45 144h1.4M46 144h1.4M47 144h1.4M48 144h1.4M49 144h1.4M50 144h1.4M51 144h1.4M52 144h1.4M54 144h1.4M55 144h1.4M56 144h1.4M58 144h1.4M59 144h1.4M60 144h1.4M62 144h1.4M64 144h1.4M66 144h1.4M67 144h1.4M72 144h1.4M74 144h1.4M75 144h1.4M79 144h1.4M82 144h1.4M84 144h1.4M85 144h1.4M114 144h1.4M24 145h1.4M27 145h1.4M30 145h1.4M31 145h1.4M32 145h1.4M34 145h1.4M35 145h1.4M36 145h1.4M38 145h1.4M39 145h1.4M40 145h1.4M41 145h1.4M42 145h1.4M43 145h1.4M44 145h1.4M45 145h1.4M47 145h1.4M48 145h1.4M49 145h1.4M50 145h1.4M51 145h1.4M52 145h1.4M53 145h1.4M54 145h1.4M55 145h1.4M56 145h1.4M57 145h1.4M58 145h1.4M59 145h1.4M60 145h1.4M62 145h1.4M63 145h1.4M65 145h1.4M68 145h1.4M71 145h1.4M72 145h1.4M80 145h1.4M86 145h1.4M87 145h1.4M88 145h1.4M91 145h1.4M98 145h1.4M99 145h1.4M105 145h1.4M107 145h1.4M151 145h1.4M1 146h1.4M20 146h1.4M23 146h1.4M25 146h1.4M27 146h1.4M30 146h1.4M31 146h1.4M32 146h1.4M33 146h1.4M34 146h1.4M35 146h1.4M36 146h1.4M38 146h1.4M39 146h1.4M40 146h1.4M41 146h1.4M42 146h1.4M43 146h1.4M44 146h1.4M45 146h1.4M46 146h1.4M47 146h1.4M48 146h1.4M51 146h1.4M52 146h1.4M54 146h1.4M55 146h1.4M56 146h1.4M57 146h1.4M58 146h1.4M59 146h1.4M60 146h1.4M61 146h1.4M62 146h1.4M63 146h1.4M64 146h1.4M66 146h1.4M68 146h1.4M69 146h1.4M71 146h1.4M72 146h1.4M79 146h1.4M87 146h1.4M112 146h1.4M138 146h1.4M24 147h1.4M25 147h1.4M30 147h1.4M31 147h1.4M32 147h1.4M33 147h1.4M34 147h1.4M35 147h1.4M36 147h1.4M37 147h1.4M38 147h1.4M39 147h1.4M40 147h1.4M41 147h1.4M42 147h1.4M43 147h1.4M44 147h1.4M45 147h1.4M46 147h1.4M47 147h1.4M48 147h1.4M49 147h1.4M50 147h1.4M51 147h1.4M53 147h1.4M54 147h1.4M55 147h1.4M56 147h1.4M57 147h1.4M58 147h1.4M59 147h1.4M60 147h1.4M61 147h1.4M63 147h1.4M64 147h1.4M69 147h1.4M70 147h1.4M73 147h1.4M78 147h1.4M86 147h1.4M87 147h1.4M88 147h1.4M97 147h1.4M101 147h1.4M111 147h1.4M126 147h1.4M130 147h1.4M17 148h1.4M19 148h1.4M21 148h1.4M25 148h1.4M29 148h1.4M31 148h1.4M32 148h1.4M33 148h1.4M34 148h1.4M37 148h1.4M38 148h1.4M40 148h1.4M42 148h1.4M43 148h1.4M44 148h1.4M45 148h1.4M46 148h1.4M47 148h1.4M48 148h1.4M49 148h1.4M50 148h1.4M51 148h1.4M52 148h1.4M53 148h1.4M54 148h1.4M55 148h1.4M56 148h1.4M58 148h1.4M60 148h1.4M61 148h1.4M63 148h1.4M64 148h1.4M65 148h1.4M66 148h1.4M68 148h1.4M69 148h1.4M72 148h1.4M75 148h1.4M78 148h1.4M80 148h1.4M97 148h1.4M105 148h1.4M23 149h1.4M24 149h1.4M26 149h1.4M31 149h1.4M32 149h1.4M33 149h1.4M34 149h1.4M35 149h1.4M36 149h1.4M37 149h1.4M38 149h1.4M39 149h1.4M40 149h1.4M42 149h1.4M43 149h1.4M44 149h1.4M47 149h1.4M49 149h1.4M51 149h1.4M52 149h1.4M53 149h1.4M54 149h1.4M55 149h1.4M56 149h1.4M57 149h1.4M59 149h1.4M60 149h1.4M61 149h1.4M62 149h1.4M63 149h1.4M65 149h1.4M66 149h1.4M68 149h1.4M73 149h1.4M75 149h1.4M82 149h1.4M88 149h1.4M93 149h1.4M99 149h1.4M101 149h1.4M106 149h1.4M114 149h1.4M120 149h1.4M157 149h1.4M23 150h1.4M24 150h1.4M26 150h1.4M31 150h1.4M32 150h1.4M33 150h1.4M34 150h1.4M36 150h1.4M37 150h1.4M38 150h1.4M41 150h1.4M43 150h1.4M44 150h1.4M45 150h1.4M46 150h1.4M47 150h1.4M48 150h1.4M49 150h1.4M50 150h1.4M54 150h1.4M55 150h1.4M56 150h1.4M57 150h1.4M59 150h1.4M60 150h1.4M61 150h1.4M63 150h1.4M64 150h1.4M65 150h1.4M66 150h1.4M67 150h1.4M68 150h1.4M69 150h1.4M80 150h1.4M82 150h1.4M88 150h1.4M95 150h1.4M103 150h1.4M24 151h1.4M26 151h1.4M27 151h1.4M28 151h1.4M30 151h1.4M31 151h1.4M32 151h1.4M33 151h1.4M34 151h1.4M35 151h1.4M36 151h1.4M38 151h1.4M39 151h1.4M40 151h1.4M43 151h1.4M44 151h1.4M45 151h1.4M46 151h1.4M47 151h1.4M48 151h1.4M49 151h1.4M50 151h1.4M51 151h1.4M52 151h1.4M53 151h1.4M54 151h1.4M55 151h1.4M57 151h1.4M58 151h1.4M59 151h1.4M60 151h1.4M61 151h1.4M63 151h1.4M64 151h1.4M67 151h1.4M68 151h1.4M69 151h1.4M70 151h1.4M76 151h1.4M77 151h1.4M78 151h1.4M81 151h1.4M82 151h1.4M83 151h1.4M110 151h1.4M127 151h1.4M18 152h1.4M27 152h1.4M28 152h1.4M29 152h1.4M31 152h1.4M32 152h1.4M33 152h1.4M34 152h1.4M37 152h1.4M38 152h1.4M39 152h1.4M40 152h1.4M41 152h1.4M42 152h1.4M43 152h1.4M44 152h1.4M45 152h1.4M46 152h1.4M47 152h1.4M48 152h1.4M49 152h1.4M50 152h1.4M51 152h1.4M53 152h1.4M54 152h1.4M55 152h1.4M56 152h1.4M57 152h1.4M58 152h1.4M59 152h1.4M60 152h1.4M61 152h1.4M62 152h1.4M63 152h1.4M65 152h1.4M66 152h1.4M67 152h1.4M69 152h1.4M70 152h1.4M77 152h1.4M83 152h1.4M84 152h1.4M90 152h1.4M112 152h1.4M16 153h1.4M24 153h1.4M26 153h1.4M29 153h1.4M32 153h1.4M33 153h1.4M34 153h1.4M35 153h1.4M36 153h1.4M37 153h1.4M38 153h1.4M40 153h1.4M41 153h1.4M42 153h1.4M43 153h1.4M45 153h1.4M47 153h1.4M48 153h1.4M49 153h1.4M50 153h1.4M52 153h1.4M53 153h1.4M54 153h1.4M55 153h1.4M56 153h1.4M57 153h1.4M59 153h1.4M60 153h1.4M61 153h1.4M62 153h1.4M63 153h1.4M65 153h1.4M66 153h1.4M67 153h1.4M69 153h1.4M71 153h1.4M72 153h1.4M79 153h1.4M84 153h1.4M93 153h1.4M97 153h1.4M106 153h1.4M12 154h1.4M13 154h1.4M14 154h1.4M16 154h1.4M28 154h1.4M29 154h1.4M30 154h1.4M31 154h1.4M34 154h1.4M35 154h1.4M37 154h1.4M38 154h1.4M39 154h1.4M40 154h1.4M41 154h1.4M42 154h1.4M43 154h1.4M45 154h1.4M47 154h1.4M49 154h1.4M50 154h1.4M51 154h1.4M52 154h1.4M55 154h1.4M57 154h1.4M58 154h1.4M60 154h1.4M61 154h1.4M62 154h1.4M63 154h1.4M64 154h1.4M66 154h1.4M67 154h1.4M68 154h1.4M75 154h1.4M76 154h1.4M82 154h1.4M87 154h1.4M93 154h1.4M98 154h1.4M100 154h1.4M101 154h1.4M11 155h1.4M25 155h1.4M27 155h1.4M28 155h1.4M30 155h1.4M31 155h1.4M33 155h1.4M34 155h1.4M37 155h1.4M38 155h1.4M39 155h1.4M41 155h1.4M42 155h1.4M43 155h1.4M46 155h1.4M51 155h1.4M53 155h1.4M54 155h1.4M55 155h1.4M56 155h1.4M57 155h1.4M58 155h1.4M59 155h1.4M60 155h1.4M62 155h1.4M63 155h1.4M65 155h1.4M66 155h1.4M68 155h1.4M72 155h1.4M76 155h1.4M78 155h1.4M81 155h1.4M87 155h1.4M91 155h1.4M97 155h1.4M99 155h1.4M105 155h1.4M107 155h1.4M109 155h1.4M113 155h1.4M120 155h1.4M130 155h1.4M133 155h1.4M17 156h1.4M24 156h1.4M25 156h1.4M26 156h1.4M34 156h1.4M35 156h1.4M36 156h1.4M37 156h1.4M38 156h1.4M39 156h1.4M40 156h1.4M41 156h1.4M43 156h1.4M44 156h1.4M45 156h1.4M47 156h1.4M49 156h1.4M50 156h1.4M51 156h1.4M52 156h1.4M53 156h1.4M54 156h1.4M55 156h1.4M56 156h1.4M57 156h1.4M58 156h1.4M59 156h1.4M60 156h1.4M61 156h1.4M63 156h1.4M70 156h1.4M72 156h1.4M74 156h1.4M77 156h1.4M78 156h1.4M85 156h1.4M86 156h1.4M91 156h1.4M95 156h1.4M109 156h1.4M112 156h1.4M114 156h1.4M122 156h1.4M132 156h1.4M22 157h1.4M36 157h1.4M37 157h1.4M38 157h1.4M39 157h1.4M41 157h1.4M42 157h1.4M43 157h1.4M45 157h1.4M46 157h1.4M47 157h1.4M50 157h1.4M52 157h1.4M53 157h1.4M54 157h1.4M57 157h1.4M58 157h1.4M60 157h1.4M62 157h1.4M63 157h1.4M64 157h1.4M66 157h1.4M67 157h1.4M68 157h1.4M69 157h1.4M70 157h1.4M76 157h1.4M94 157h1.4M95 157h1.4M102 157h1.4M103 157h1.4M104 157h1.4M22 158h1.4M28 158h1.4M31 158h1.4M33 158h1.4M34 158h1.4M35 158h1.4M38 158h1.4M39 158h1.4M40 158h1.4M41 158h1.4M44 158h1.4M45 158h1.4M46 158h1.4M47 158h1.4M48 158h1.4M49 158h1.4M50 158h1.4M51 158h1.4M52 158h1.4M54 158h1.4M55 158h1.4M56 158h1.4M57 158h1.4M59 158h1.4M60 158h1.4M61 158h1.4M62 158h1.4M63 158h1.4M66 158h1.4M78 158h1.4M90 158h1.4M97 158h1.4M101 158h1.4M117 158h1.4M120 158h1.4M30 159h1.4M32 159h1.4M34 159h1.4M36 159h1.4M37 159h1.4M38 159h1.4M39 159h1.4M40 159h1.4M41 159h1.4M42 159h1.4M43 159h1.4M44 159h1.4M45 159h1.4M46 159h1.4M47 159h1.4M48 159h1.4M49 159h1.4M50 159h1.4M53 159h1.4M55 159h1.4M56 159h1.4M59 159h1.4M61 159h1.4M62 159h1.4M63 159h1.4M64 159h1.4M65 159h1.4M67 159h1.4M69 159h1.4M70 159h1.4M75 159h1.4M79 159h1.4M80 159h1.4M83 159h1.4M95 159h1.4M18 160h1.4M19 160h1.4M26 160h1.4M39 160h1.4M46 160h1.4M47 160h1.4M49 160h1.4M50 160h1.4M51 160h1.4M53 160h1.4M54 160h1.4M55 160h1.4M58 160h1.4M59 160h1.4M60 160h1.4M65 160h1.4M67 160h1.4M68 160h1.4M72 160h1.4M77 160h1.4M79 160h1.4M81 160h1.4M91 160h1.4M109 160h1.4M125 160h1.4M30 161h1.4M33 161h1.4M34 161h1.4M35 161h1.4M39 161h1.4M42 161h1.4M43 161h1.4M44 161h1.4M45 161h1.4M46 161h1.4M47 161h1.4M48 161h1.4M49 161h1.4M50 161h1.4M51 161h1.4M52 161h1.4M55 161h1.4M56 161h1.4M57 161h1.4M58 161h1.4M59 161h1.4M60 161h1.4M63 161h1.4M64 161h1.4M70 161h1.4M79 161h1.4M80 161h1.4M91 161h1.4M100 161h1.4M103 161h1.4M23 162h1.4M29 162h1.4M33 162h1.4M38 162h1.4M39 162h1.4M40 162h1.4M41 162h1.4M42 162h1.4M43 162h1.4M44 162h1.4M45 162h1.4M47 162h1.4M48 162h1.4M49 162h1.4M53 162h1.4M54 162h1.4M56 162h1.4M57 162h1.4M60 162h1.4M64 162h1.4M65 162h1.4M73 162h1.4M80 162h1.4M82 162h1.4M94 162h1.4M96 162h1.4M112 162h1.4M114 162h1.4M17 163h1.4M24 163h1.4M25 163h1.4M27 163h1.4M34 163h1.4M35 163h1.4M38 163h1.4M47 163h1.4M48 163h1.4M49 163h1.4M55 163h1.4M57 163h1.4M58 163h1.4M69 163h1.4M72 163h1.4M73 163h1.4M74 163h1.4M83 163h1.4M85 163h1.4M95 163h1.4M98 163h1.4M104 163h1.4M22 164h1.4M24 164h1.4M31 164h1.4M32 164h1.4M35 164h1.4M36 164h1.4M39 164h1.4M40 164h1.4M42 164h1.4M43 164h1.4M51 164h1.4M54 164h1.4M56 164h1.4M57 164h1.4M58 164h1.4M61 164h1.4M62 164h1.4M63 164h1.4M65 164h1.4M66 164h1.4M67 164h1.4M69 164h1.4M72 164h1.4M73 164h1.4M77 164h1.4M78 164h1.4M82 164h1.4M88 164h1.4M93 164h1.4M94 164h1.4M103 164h1.4M115 164h1.4M127 164h1.4M134 164h1.4M24 165h1.4M31 165h1.4M38 165h1.4M41 165h1.4M44 165h1.4M45 165h1.4M46 165h1.4M52 165h1.4M54 165h1.4M56 165h1.4M62 165h1.4M74 165h1.4M75 165h1.4M82 165h1.4M85 165h1.4M101 165h1.4M107 165h1.4M120 165h1.4M148 165h1.4M19 166h1.4M28 166h1.4M38 166h1.4M42 166h1.4M43 166h1.4M46 166h1.4M49 166h1.4M56 166h1.4M68 166h1.4M70 166h1.4M72 166h1.4M75 166h1.4M79 166h1.4M82 166h1.4M94 166h1.4M100 166h1.4M146 166h1.4M25 167h1.4M36 167h1.4M41 167h1.4M44 167h1.4M47 167h1.4M49 167h1.4M50 167h1.4M52 167h1.4M55 167h1.4M56 167h1.4M57 167h1.4M72 167h1.4M76 167h1.4M80 167h1.4M82 167h1.4M83 167h1.4M90 167h1.4M94 167h1.4M104 167h1.4M110 167h1.4M116 167h1.4M128 167h1.4M39 168h1.4M41 168h1.4M50 168h1.4M51 168h1.4M54 168h1.4M55 168h1.4M65 168h1.4M80 168h1.4M87 168h1.4M91 168h1.4M99 168h1.4M106 168h1.4M109 168h1.4M114 168h1.4M118 168h1.4M135 168h1.4M184 168h1.4M18 169h1.4M31 169h1.4M37 169h1.4M41 169h1.4M49 169h1.4M51 169h1.4M54 169h1.4M57 169h1.4M67 169h1.4M69 169h1.4M72 169h1.4M73 169h1.4M75 169h1.4M78 169h1.4M79 169h1.4M91 169h1.4M103 169h1.4M21 170h1.4M27 170h1.4M33 170h1.4M36 170h1.4M39 170h1.4M40 170h1.4M42 170h1.4M43 170h1.4M48 170h1.4M59 170h1.4M60 170h1.4M63 170h1.4M64 170h1.4M68 170h1.4M79 170h1.4M90 170h1.4M96 170h1.4M98 170h1.4M102 170h1.4M21 171h1.4M36 171h1.4M40 171h1.4M41 171h1.4M47 171h1.4M51 171h1.4M52 171h1.4M55 171h1.4M58 171h1.4M60 171h1.4M68 171h1.4M75 171h1.4M88 171h1.4M91 171h1.4M108 171h1.4M23 172h1.4M26 172h1.4M35 172h1.4M44 172h1.4M51 172h1.4M53 172h1.4M64 172h1.4M70 172h1.4M74 172h1.4M76 172h1.4M82 172h1.4M89 172h1.4M95 172h1.4M112 172h1.4M115 172h1.4M36 173h1.4M39 173h1.4M45 173h1.4M46 173h1.4M48 173h1.4M55 173h1.4M58 173h1.4M61 173h1.4M64 173h1.4M65 173h1.4M74 173h1.4M84 173h1.4M92 173h1.4M94 173h1.4M97 173h1.4M106 173h1.4M110 173h1.4M36 174h1.4M38 174h1.4M51 174h1.4M61 174h1.4M66 174h1.4M69 174h1.4M72 174h1.4M79 174h1.4M100 174h1.4M125 174h1.4M29 175h1.4M37 175h1.4M48 175h1.4M53 175h1.4M70 175h1.4M71 175h1.4M72 175h1.4M89 175h1.4M131 175h1.4M14 176h1.4M34 176h1.4M59 176h1.4M61 176h1.4M73 176h1.4M78 176h1.4M84 176h1.4M87 176h1.4M93 176h1.4M94 176h1.4M98 176h1.4M106 176h1.4M141 176h1.4M144 176h1.4M17 177h1.4M24 177h1.4M29 177h1.4M30 177h1.4M39 177h1.4M45 177h1.4M46 177h1.4M54 177h1.4M56 177h1.4M57 177h1.4M67 177h1.4M74 177h1.4M75 177h1.4M88 177h1.4M110 177h1.4M129 177h1.4M130 177h1.4M15 178h1.4M54 178h1.4M56 178h1.4M58 178h1.4M67 178h1.4M72 178h1.4M75 178h1.4M87 178h1.4M88 178h1.4M34 179h1.4M42 179h1.4M45 179h1.4M50 179h1.4M54 179h1.4M63 179h1.4M79 179h1.4M87 179h1.4M95 179h1.4M96 179h1.4M104 179h1.4M106 179h1.4M113 179h1.4M21 180h1.4M44 180h1.4M51 180h1.4M52 180h1.4M56 180h1.4M58 180h1.4M91 180h1.4M98 180h1.4M101 180h1.4M122 180h1.4M124 180h1.4M128 180h1.4M20 181h1.4M43 181h1.4M45 181h1.4M62 181h1.4M63 181h1.4M79 181h1.4M18 182h1.4M31 182h1.4M39 182h1.4M42 182h1.4M82 182h1.4M87 182h1.4M99 182h1.4M126 182h1.4M18 183h1.4M26 183h1.4M40 183h1.4M49 183h1.4M53 183h1.4M54 183h1.4M61 183h1.4M82 183h1.4M121 183h1.4M178 183h1.4M17 184h1.4M23 184h1.4M38 184h1.4M42 184h1.4M49 184h1.4M58 184h1.4M61 184h1.4M62 184h1.4M70 184h1.4M100 184h1.4M17 185h1.4M32 185h1.4M45 185h1.4M53 185h1.4M78 185h1.4M96 185h1.4M101 185h1.4M104 185h1.4M208 185h1.4M10 186h1.4M37 186h1.4M68 186h1.4M89 186h1.4M97 186h1.4M159 186h1.4M27 187h1.4M35 187h1.4M91 187h1.4M100 187h1.4M9 188h1.4M10 188h1.4M56 188h1.4M61 188h1.4M69 188h1.4M76 188h1.4M97 188h1.4M8 189h1.4M38 189h1.4M59 189h1.4M95 189h1.4M121 189h1.4M7 190h1.4M5 191h1.4M97 192h1.4" stroke="#231f20" stroke-width="1.4" fill="none"/></g>
<path d="M62.3 578.2V822.4" stroke="#d01c3a" stroke-width="1" fill="none"/>
<path d="M413.6 578.4V760" stroke="#e0545f" stroke-width="0.8" fill="none"/>
<path d="M792.1 578.4V780" stroke="#ee9aa8" stroke-width="0.9" fill="none"/>
<!-- gridlines -->
<g style="mix-blend-mode:multiply">
<path d="M61.8 61.1H352M61.8 212.05H352M414.4 61.1H724.4M414.4 212.05H724.4M788.1 61.1H1095.9M788.1 212.05H1095.9M62.1 485.1H352.7M414.6 485.1H723.4M788.8 485.1H1095.5" stroke="#4a4648" stroke-width="2" stroke-opacity="0.5" fill="none"/>
<path d="M61.8 42.2H352M61.8 81.3H352M61.8 99.35H352M61.8 117.3H352M61.8 136.4H352M61.8 155.5H352M61.8 173.4H352M61.8 193.3H352M61.8 231.1H352M414.4 42.2H724.4M414.4 81.3H724.4M414.4 99.35H724.4M414.4 117.3H724.4M692.2 136.4H724.4M414.4 155.5H724.4M414.4 173.4H724.4M414.4 193.3H724.4M414.4 231.1H724.4M788.1 42.2H1095.9M788.1 81.3H1095.9M788.1 99.35H1095.9M788.1 117.3H1095.9M788.1 136.4H1037.5M1057.5 136.4H1095.9M788.1 155.5H1095.9M788.1 173.4H1095.9M788.1 193.3H1095.9M788.1 231.1H1095.9M62.1 307.1H352.7M62.1 326.2H352.7M62.1 344.3H352.7M62.1 361.3H352.7M62.1 380.2H352.7M62.1 397H352.7M62.1 413.3H352.7M62.1 431.3H352.7M62.1 449.5H352.7M62.1 466.2H352.7M62.1 502.2H352.7M62.1 520.5H352.7M414.6 307.1H723.4M414.6 326.2H723.4M414.6 344.3H723.4M414.6 361.3H723.4M414.6 380.2H723.4M414.6 397H723.4M414.6 413.3H723.4M414.6 431.3H723.4M414.6 449.5H723.4M414.6 466.2H723.4M414.6 502.2H723.4M414.6 519.3H723.4M788.8 307.1H1095.5M788.8 326.2H1095.5M788.8 344.3H1095.5M788.8 361.3H1095.5M788.8 380.2H1095.5M788.8 397H1095.5M788.8 413.3H1095.5M788.8 431.3H1095.5M788.8 449.5H1095.5M788.8 466.2H1095.5M788.8 502.2H1095.5M788.8 520.4H1095.5" stroke="#4a4648" stroke-width="1" fill="none"/>
<path d="M62 578.2H353M62 638.6H353M62 700.5H353M62 760.2H353M62 822.4H353M413.6 578.2H724M413.6 638.6H724M413.6 700.5H724M413.6 760.2H724M413.6 822.4H724M791.6 578.2H1096M791.6 638.6H1096M791.6 700.5H1096M791.6 760.2H1096M791.6 822.4H1096" stroke="#4a4648" stroke-width="0.8" fill="none"/>
</g>
<!-- markers -->
<path d="M61.8 127.6H216.5" stroke="#cf6296" stroke-width="1.2" fill="none"/><path d="M61.8 127.6H130.6" stroke="#f4407a" stroke-width="1.5" fill="none"/><path d="M216.5 125V130.2" stroke="#b9548a" stroke-width="1.1" fill="none"/>
<path d="M417.4 136.6H685.1" stroke="#cf6296" stroke-width="1.2" fill="none"/><path d="M444.2 136.6H589.2" stroke="#f4407a" stroke-width="1.5" fill="none"/><path d="M417.4 134V139.2M685.1 134V139.2" stroke="#b9548a" stroke-width="1.1" fill="none"/>
<path d="M834.3 126.2H1061.3" stroke="#cf6296" stroke-width="1.2" fill="none"/><path d="M834.3 123.6V128.8M1061.3 123.6V128.8" stroke="#b9548a" stroke-width="1.1" fill="none"/>
<path d="M204.7 454.3H353.5" stroke="#cf6296" stroke-width="1.2" fill="none"/><path d="M204.7 451.7V456.9M353.5 451.7V456.9" stroke="#b9548a" stroke-width="1.1" fill="none"/>
<path d="M571.4 453.5H723.6" stroke="#cf6296" stroke-width="1.2" fill="none"/><path d="M571.4 450.9V456.1M723.6 450.9V456.1" stroke="#b9548a" stroke-width="1.1" fill="none"/>
<path d="M946.2 454.9H1095.7" stroke="#ee85ab" stroke-width="1.9" fill="none"/><path d="M946.2 452.3V457.5M1095.7 452.3V457.5" stroke="#d45c92" stroke-width="1.1" fill="none"/>
<!-- axes -->
<path d="M52.6 584V795.3" stroke="#4a4648" stroke-width="1" fill="none"/>
<path d="M52.6 578.9L56.8 586.5H48.5Z" fill="#1a1718"/>
<path d="M86.8 841.4H1088" stroke="#4a4648" stroke-width="1" fill="none"/>
<path d="M1094.2 841.4L1086.8 837.6V845.2Z" fill="#1a1718"/>
<!-- labels -->
<text x="207.1" y="17.8" text-anchor="middle" textLength="207.4" lengthAdjust="spacingAndGlyphs" font-weight="bold" style="font-size:15px">1:1 dilution with PBS Cycle</text>
<text x="566.3" y="17.8" text-anchor="middle" textLength="143.8" lengthAdjust="spacingAndGlyphs" font-weight="bold" style="font-size:15px">1 Spin-Wash Cycle</text>
<text x="937.4" y="17.8" text-anchor="middle" textLength="143.8" lengthAdjust="spacingAndGlyphs" font-weight="bold" style="font-size:15px">3 Spin-Wash Cycle</text>
<text x="62.3" y="38" textLength="99.4" lengthAdjust="spacingAndGlyphs">Current Acquisition</text>
<text x="414.2" y="38" textLength="99.4" lengthAdjust="spacingAndGlyphs">Current Acquisition</text>
<text x="788" y="38" textLength="99.4" lengthAdjust="spacingAndGlyphs">Current Acquisition</text>
<text x="202.4" y="55" textLength="148.8" lengthAdjust="spacingAndGlyphs">Warning: High Concentraton</text>
<text x="56.6" y="45.8" text-anchor="end" textLength="19.2" lengthAdjust="spacingAndGlyphs">200</text>
<text x="56.6" y="84.9" text-anchor="end" textLength="19.2" lengthAdjust="spacingAndGlyphs">160</text>
<text x="56.6" y="120.9" text-anchor="end" textLength="19.2" lengthAdjust="spacingAndGlyphs">120</text>
<text x="56.6" y="159.1" text-anchor="end" textLength="12.8" lengthAdjust="spacingAndGlyphs">80</text>
<text x="56.6" y="177" text-anchor="end" textLength="12.8" lengthAdjust="spacingAndGlyphs">60</text>
<text x="56.6" y="196.9" text-anchor="end" textLength="12.8" lengthAdjust="spacingAndGlyphs">40</text>
<text x="56.6" y="215.65" text-anchor="end" textLength="12.8" lengthAdjust="spacingAndGlyphs">20</text>
<text x="56.6" y="234.7" text-anchor="end" textLength="6.4" lengthAdjust="spacingAndGlyphs">0</text>
<text x="410.6" y="45.8" text-anchor="end" textLength="19.2" lengthAdjust="spacingAndGlyphs">200</text>
<text x="410.6" y="84.9" text-anchor="end" textLength="19.2" lengthAdjust="spacingAndGlyphs">160</text>
<text x="410.6" y="120.9" text-anchor="end" textLength="19.2" lengthAdjust="spacingAndGlyphs">120</text>
<text x="410.6" y="159.1" text-anchor="end" textLength="12.8" lengthAdjust="spacingAndGlyphs">80</text>
<text x="410.6" y="177" text-anchor="end" textLength="12.8" lengthAdjust="spacingAndGlyphs">60</text>
<text x="410.6" y="196.9" text-anchor="end" textLength="12.8" lengthAdjust="spacingAndGlyphs">40</text>
<text x="410.6" y="215.65" text-anchor="end" textLength="12.8" lengthAdjust="spacingAndGlyphs">20</text>
<text x="410.6" y="234.7" text-anchor="end" textLength="6.4" lengthAdjust="spacingAndGlyphs">0</text>
<text x="782.8" y="45.8" text-anchor="end" textLength="19.2" lengthAdjust="spacingAndGlyphs">200</text>
<text x="782.8" y="84.9" text-anchor="end" textLength="19.2" lengthAdjust="spacingAndGlyphs">160</text>
<text x="782.8" y="120.9" text-anchor="end" textLength="19.2" lengthAdjust="spacingAndGlyphs">120</text>
<text x="782.8" y="159.1" text-anchor="end" textLength="12.8" lengthAdjust="spacingAndGlyphs">80</text>
<text x="782.8" y="177" text-anchor="end" textLength="12.8" lengthAdjust="spacingAndGlyphs">60</text>
<text x="782.8" y="196.9" text-anchor="end" textLength="12.8" lengthAdjust="spacingAndGlyphs">40</text>
<text x="782.8" y="215.65" text-anchor="end" textLength="12.8" lengthAdjust="spacingAndGlyphs">20</text>
<text x="782.8" y="234.7" text-anchor="end" textLength="6.4" lengthAdjust="spacingAndGlyphs">0</text>
<text x="57.1" y="311.5" text-anchor="end" textLength="19.2" lengthAdjust="spacingAndGlyphs">200</text>
<text x="57.1" y="365.6" text-anchor="end" textLength="19.2" lengthAdjust="spacingAndGlyphs">150</text>
<text x="57.1" y="417.4" text-anchor="end" textLength="19.2" lengthAdjust="spacingAndGlyphs">100</text>
<text x="57.1" y="469.6" text-anchor="end" textLength="12.8" lengthAdjust="spacingAndGlyphs">50</text>
<text x="57.1" y="524.9" text-anchor="end" textLength="6.4" lengthAdjust="spacingAndGlyphs">0</text>
<text x="410.7" y="311.5" text-anchor="end" textLength="19.2" lengthAdjust="spacingAndGlyphs">250</text>
<text x="410.7" y="364.4" text-anchor="end" textLength="19.2" lengthAdjust="spacingAndGlyphs">188</text>
<text x="410.7" y="417.4" text-anchor="end" textLength="19.2" lengthAdjust="spacingAndGlyphs">125</text>
<text x="410.7" y="469.6" text-anchor="end" textLength="12.8" lengthAdjust="spacingAndGlyphs">63</text>
<text x="410.7" y="522.1" text-anchor="end" textLength="6.4" lengthAdjust="spacingAndGlyphs">0</text>
<text x="782.8" y="311.5" text-anchor="end" textLength="19.2" lengthAdjust="spacingAndGlyphs">250</text>
<text x="782.8" y="364.4" text-anchor="end" textLength="19.2" lengthAdjust="spacingAndGlyphs">188</text>
<text x="782.8" y="417.4" text-anchor="end" textLength="19.2" lengthAdjust="spacingAndGlyphs">125</text>
<text x="782.8" y="469.6" text-anchor="end" textLength="12.8" lengthAdjust="spacingAndGlyphs">63</text>
<text x="782.8" y="522.1" text-anchor="end" textLength="6.4" lengthAdjust="spacingAndGlyphs">0</text>
<text x="61.4" y="244" text-anchor="middle" textLength="6.1" lengthAdjust="spacingAndGlyphs">3</text>
<text x="111" y="244" text-anchor="middle" textLength="6.1" lengthAdjust="spacingAndGlyphs">6</text>
<text x="166" y="244" text-anchor="middle" textLength="6.1" lengthAdjust="spacingAndGlyphs">9</text>
<text x="220.2" y="244" text-anchor="middle" textLength="12.5" lengthAdjust="spacingAndGlyphs">12</text>
<text x="275.2" y="244" text-anchor="middle" textLength="12.5" lengthAdjust="spacingAndGlyphs">15</text>
<text x="330" y="244" text-anchor="middle" textLength="12.5" lengthAdjust="spacingAndGlyphs">18</text>
<text x="415" y="244" text-anchor="middle" textLength="6.1" lengthAdjust="spacingAndGlyphs">3</text>
<text x="467.7" y="244" text-anchor="middle" textLength="6.1" lengthAdjust="spacingAndGlyphs">6</text>
<text x="526" y="244" text-anchor="middle" textLength="6.1" lengthAdjust="spacingAndGlyphs">9</text>
<text x="583.8" y="244" text-anchor="middle" textLength="12.5" lengthAdjust="spacingAndGlyphs">12</text>
<text x="642.3" y="244" text-anchor="middle" textLength="12.5" lengthAdjust="spacingAndGlyphs">15</text>
<text x="700.3" y="244" text-anchor="middle" textLength="12.5" lengthAdjust="spacingAndGlyphs">18</text>
<text x="790.4" y="244" text-anchor="middle" textLength="6.1" lengthAdjust="spacingAndGlyphs">3</text>
<text x="843.1" y="244" text-anchor="middle" textLength="6.1" lengthAdjust="spacingAndGlyphs">6</text>
<text x="901.3" y="244" text-anchor="middle" textLength="6.1" lengthAdjust="spacingAndGlyphs">9</text>
<text x="959.2" y="244" text-anchor="middle" textLength="12.5" lengthAdjust="spacingAndGlyphs">12</text>
<text x="1017.6" y="244" text-anchor="middle" textLength="12.5" lengthAdjust="spacingAndGlyphs">15</text>
<text x="1076" y="244" text-anchor="middle" textLength="12.5" lengthAdjust="spacingAndGlyphs">18</text>
<text x="206.5" y="259.7" text-anchor="middle" textLength="77" lengthAdjust="spacingAndGlyphs">Diameter (µm)</text>
<text x="564.4" y="259.7" text-anchor="middle" textLength="77" lengthAdjust="spacingAndGlyphs">Diameter (µm)</text>
<text x="940.1" y="259.7" text-anchor="middle" textLength="77" lengthAdjust="spacingAndGlyphs">Diameter (µm)</text>
<text x="204.7" y="539.8" text-anchor="middle" textLength="91" lengthAdjust="spacingAndGlyphs">Red Fluorescence</text>
<text x="564" y="539.8" text-anchor="middle" textLength="91" lengthAdjust="spacingAndGlyphs">Red Fluorescence</text>
<text x="939.6" y="539.8" text-anchor="middle" textLength="91" lengthAdjust="spacingAndGlyphs">Red Fluorescence</text>
<text x="195.7" y="139.8" textLength="13.9" lengthAdjust="spacingAndGlyphs" style="font-size:10.5px">M1</text>
<text x="661.4" y="149.8" textLength="13.9" lengthAdjust="spacingAndGlyphs" style="font-size:10.5px">M1</text>
<text x="1040.3" y="139.8" textLength="13.9" lengthAdjust="spacingAndGlyphs" style="font-size:10.5px">M1</text>
<text x="334.5" y="465" textLength="14" lengthAdjust="spacingAndGlyphs" style="font-size:10.5px">M1</text>
<text x="707.6" y="464" textLength="14" lengthAdjust="spacingAndGlyphs" style="font-size:10.5px">M1</text>
<text x="1078.9" y="465" textLength="14" lengthAdjust="spacingAndGlyphs" style="font-size:10.5px">M1</text>
<text transform="translate(17.3 177.7) rotate(-90)" text-anchor="middle" textLength="106.3" lengthAdjust="spacingAndGlyphs">Scepter™ Cell Count</text>
<text transform="translate(16.3 435.2) rotate(-90)" text-anchor="middle" textLength="174.9" lengthAdjust="spacingAndGlyphs">Guava<tspan style="font-size:7.5px" dy="-3.2">®</tspan><tspan dy="3.2"> easyCyte Flow Cell Count</tspan></text>
<text transform="translate(16.6 751.6) rotate(-90)" text-anchor="middle" textLength="141.8" lengthAdjust="spacingAndGlyphs">Guava<tspan style="font-size:7.5px" dy="-3.2">®</tspan><tspan dy="3.2"> easyCyte Dot Plot</tspan></text>
<text transform="translate(56.6 812.3) rotate(-90)" text-anchor="middle" textLength="21" lengthAdjust="spacingAndGlyphs">SSC</text>
<text x="60.6" y="844" textLength="20.2" lengthAdjust="spacingAndGlyphs">FSC</text>
</svg></body></html>
